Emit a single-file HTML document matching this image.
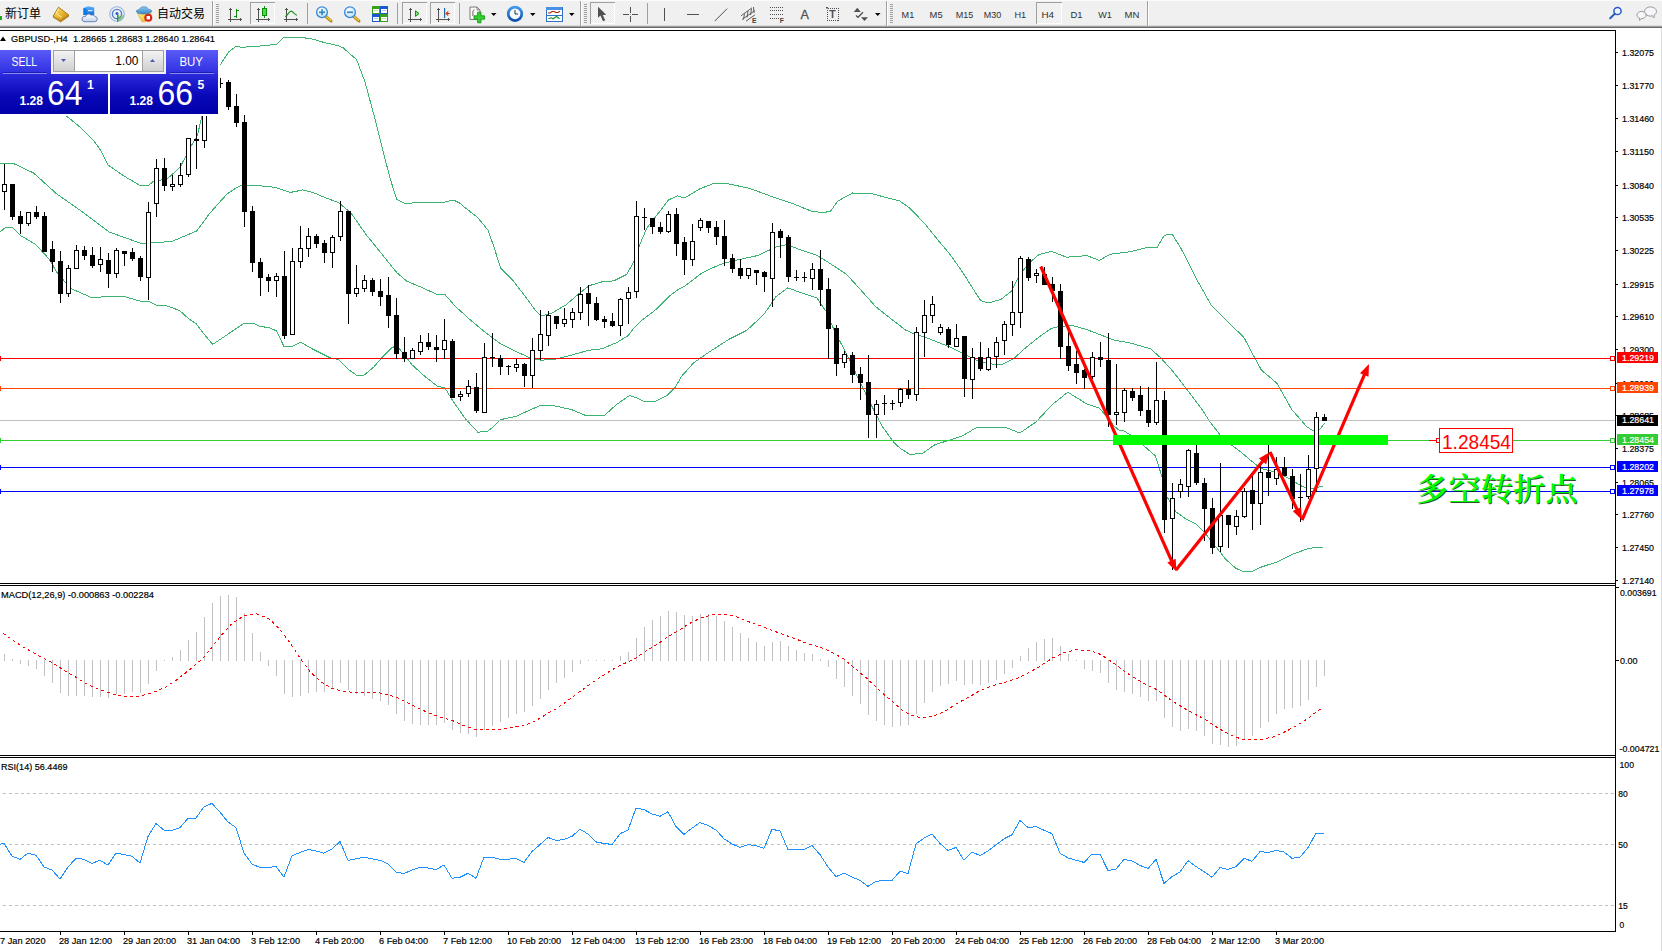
<!DOCTYPE html>
<html><head><meta charset="utf-8"><title>GBPUSD-,H4</title>
<style>
html,body{margin:0;padding:0;background:#fff}
body{width:1662px;height:951px;position:relative;overflow:hidden;font-family:"Liberation Sans", "Noto Sans CJK SC", sans-serif}
#tb{position:absolute;left:0;top:0;width:1662px;height:28px;background:linear-gradient(#fbfbfb 0,#fbfbfb 1px,#f0f0f0 1px,#f0f0f0 25px,#dadada 25px,#dadada 26px,#a0a0a0 26px,#a0a0a0 27px,#686868 27px,#686868 28px)}
</style></head><body>
<div id="tb"></div>
<svg width="1662" height="951" viewBox="0 0 1662 951" style="position:absolute;left:0;top:0;font-family:'Liberation Sans', 'Noto Sans CJK SC', sans-serif">
<defs><clipPath id="cm"><rect x="0" y="31" width="1615" height="552"/></clipPath>
<linearGradient id="gs1" x1="0" y1="0" x2="0" y2="1"><stop offset="0" stop-color="#5a5af8"/><stop offset="1" stop-color="#2e2ee0"/></linearGradient>
<linearGradient id="gs2" x1="0" y1="0" x2="0" y2="1"><stop offset="0" stop-color="#2a2adc"/><stop offset="0.55" stop-color="#0808b8"/><stop offset="1" stop-color="#0000a8"/></linearGradient>
<linearGradient id="gb" x1="0" y1="0" x2="0" y2="1"><stop offset="0" stop-color="#f4f4f4"/><stop offset="1" stop-color="#cfcfcf"/></linearGradient>
</defs>
<g shape-rendering="crispEdges" fill="#000">
<rect x="0" y="30" width="1616" height="1"/>
<rect x="1615" y="30" width="1" height="902"/>
<rect x="0" y="583" width="1616" height="1"/>
<rect x="0" y="585" width="1616" height="1"/>
<rect x="0" y="755" width="1616" height="1"/>
<rect x="0" y="757" width="1616" height="1"/>
<rect x="0" y="931" width="1616" height="1"/>
<rect x="1661" y="28" width="1" height="923" fill="#dcdcdc"/>
</g>
<g clip-path="url(#cm)">
<path d="M-4.0,96.0 L20.0,101.0 L40.0,106.0 L66.3,116.0 L72.0,120.5 L80.9,128.0 L93.5,140.6 L99.8,149.0 L108.0,165.0 L124.0,176.0 L136.7,183.6 L140.0,185.5 L148.8,185.1 L152.6,182.0 L160.2,180.1 L167.1,178.8 L171.6,175.0 L180.4,166.8 L185.5,156.7 L190.5,147.2 L197.4,135.3 L201.9,116.3 L212.0,88.0 L220.0,65.3 L228.7,51.9 L236.0,46.3 L242.0,47.3 L257.0,46.3 L276.6,44.3 L284.0,37.2 L296.0,37.2 L310.0,38.4 L324.6,42.6 L338.0,45.6 L343.0,47.7 L351.5,55.2 L356.5,59.4 L365.0,82.0 L375.0,119.0 L382.7,150.0 L390.0,178.0 L396.6,199.2 L405.4,203.8 L416.7,202.5 L444.5,202.2 L453.3,200.0 L459.6,203.0 L465.0,207.6 L477.9,217.7 L488.0,230.3 L494.3,248.0 L500.6,268.0 L513.2,280.8 L525.8,297.2 L535.9,311.0 L541.0,316.0 L551.0,313.6 L566.2,304.7 L576.3,295.9 L588.9,285.8 L601.5,282.0 L614.0,280.8 L626.8,274.4 L634.3,260.6 L639.4,245.4 L647.0,227.8 L657.0,215.0 L668.4,200.0 L677.4,195.9 L684.7,198.0 L699.4,189.0 L714.2,183.3 L728.9,184.0 L749.5,188.3 L773.0,197.0 L793.7,203.9 L811.3,211.2 L823.0,212.7 L830.5,211.2 L837.8,201.0 L852.6,193.0 L873.0,194.0 L888.0,198.0 L899.7,201.0 L910.0,208.3 L925.0,224.0 L937.9,240.0 L950.5,255.0 L963.0,272.8 L975.7,293.0 L980.8,300.6 L988.3,303.0 L1001.0,299.3 L1011.0,291.7 L1021.0,272.8 L1031.0,261.5 L1038.8,254.6 L1051.4,251.4 L1066.6,257.2 L1086.8,255.6 L1099.4,260.4 L1110.0,254.3 L1130.0,251.7 L1148.0,247.4 L1156.8,248.0 L1164.4,235.3 L1172.0,234.0 L1180.8,248.0 L1196.0,278.2 L1211.0,304.7 L1226.0,319.9 L1243.9,337.5 L1254.0,356.5 L1261.5,370.3 L1276.7,383.0 L1291.8,409.5 L1307.0,427.0 L1314.5,431.5 L1319.6,429.6 L1324.6,423.3" fill="none" stroke="#3cb371" stroke-width="1" shape-rendering="crispEdges"/>
<path d="M0.0,164.0 L13.7,163.6 L33.6,173.0 L56.8,194.0 L84.0,213.0 L109.0,232.0 L126.0,238.0 L141.0,243.5 L151.0,243.0 L172.0,241.4 L196.6,231.0 L210.0,213.0 L227.0,194.0 L234.6,189.0 L240.0,185.8 L255.0,185.3 L275.4,187.4 L290.6,192.4 L303.0,189.9 L313.0,192.4 L326.0,198.0 L338.5,202.5 L351.0,213.0 L366.0,234.5 L381.4,253.5 L396.6,272.4 L406.7,281.2 L421.8,287.5 L437.0,294.4 L445.0,294.6 L455.0,306.0 L470.3,319.9 L485.4,332.5 L500.6,343.8 L515.7,351.4 L529.6,357.7 L541.0,360.3 L556.0,359.0 L571.2,355.2 L588.9,350.2 L601.5,348.9 L616.7,342.6 L628.0,335.7 L634.2,327.6 L640.3,321.5 L650.3,313.9 L657.4,308.3 L670.1,295.5 L677.7,289.8 L684.3,286.5 L691.9,280.8 L701.4,273.2 L708.9,269.5 L716.5,266.1 L723.0,263.6 L740.7,259.2 L758.3,255.4 L769.5,250.0 L776.4,246.8 L785.7,244.9 L792.6,246.8 L800.0,249.7 L817.0,255.4 L829.0,262.8 L846.7,274.5 L861.4,290.7 L876.0,306.9 L890.8,318.7 L905.6,330.0 L912.6,333.4 L925.2,337.2 L937.9,342.2 L950.5,347.3 L963.0,353.6 L975.7,359.9 L988.3,363.7 L1001.0,364.9 L1013.6,358.6 L1026.2,347.3 L1038.8,337.2 L1051.4,328.3 L1059.0,326.6 L1071.6,325.3 L1086.8,329.6 L1102.0,335.4 L1113.9,340.0 L1130.0,343.0 L1150.5,348.8 L1160.6,357.7 L1173.0,371.5 L1185.8,388.0 L1201.0,408.0 L1211.0,423.3 L1221.0,436.0 L1231.0,444.7 L1241.3,452.3 L1251.4,461.0 L1261.5,468.7 L1276.7,472.5 L1291.8,480.0 L1302.0,486.4 L1312.0,488.9 L1323.0,485.9" fill="none" stroke="#3cb371" stroke-width="1" shape-rendering="crispEdges"/>
<path d="M0.0,232.0 L5.0,227.8 L12.6,227.8 L21.0,235.8 L35.8,244.6 L49.4,259.3 L57.8,274.0 L71.5,288.8 L92.5,298.0 L109.0,296.0 L126.0,297.0 L141.0,301.4 L148.7,301.3 L156.4,305.4 L166.0,305.6 L179.5,310.4 L189.0,319.0 L195.8,323.4 L203.5,333.5 L212.7,344.3 L224.7,336.4 L234.8,329.5 L244.4,323.2 L253.0,323.2 L259.3,326.3 L269.0,327.6 L276.7,331.0 L283.9,346.5 L292.0,346.5 L300.7,342.3 L313.3,349.4 L331.0,358.2 L338.5,359.5 L348.6,369.6 L357.4,375.9 L363.8,375.4 L373.8,367.0 L381.4,358.2 L391.5,348.0 L396.6,345.6 L404.0,354.4 L411.7,364.5 L424.3,375.9 L437.0,386.0 L445.0,388.0 L452.6,400.6 L465.0,418.3 L477.9,432.2 L488.0,431.0 L493.0,427.0 L500.6,419.6 L515.7,416.5 L528.3,410.7 L541.0,405.2 L553.6,405.7 L571.2,409.5 L586.4,415.8 L604.0,415.8 L616.7,404.4 L629.3,395.6 L636.8,398.0 L644.4,401.9 L654.5,401.9 L667.0,395.6 L674.7,388.0 L681.8,376.0 L693.6,362.9 L708.3,352.6 L728.9,339.3 L746.6,330.5 L764.0,314.3 L776.0,296.6 L787.8,287.8 L799.6,292.2 L817.0,298.0 L826.0,311.3 L834.9,332.0 L846.7,354.0 L858.5,379.0 L870.0,402.6 L882.0,426.0 L893.8,442.4 L900.0,448.2 L910.0,454.5 L922.7,453.2 L935.3,444.4 L950.5,440.0 L963.0,435.6 L975.7,428.0 L988.3,427.3 L1006.0,427.5 L1019.9,433.0 L1036.3,421.7 L1051.4,405.3 L1067.8,392.2 L1086.8,404.0 L1099.4,408.0 L1107.6,418.0 L1114.0,425.9 L1118.6,430.0 L1123.5,430.6 L1130.0,434.7 L1143.0,445.0 L1155.5,456.0 L1161.8,476.3 L1166.9,496.5 L1175.7,511.6 L1185.8,519.0 L1196.0,524.0 L1206.0,534.3 L1216.0,547.0 L1226.0,559.6 L1236.0,568.4 L1243.9,571.7 L1251.4,571.7 L1261.5,567.0 L1276.7,562.0 L1291.8,554.5 L1307.0,549.0 L1317.0,547.0 L1323.0,548.0" fill="none" stroke="#3cb371" stroke-width="1" shape-rendering="crispEdges"/>
<g shape-rendering="crispEdges">
<rect x="0" y="358" width="1615" height="1" fill="#ff0000"/>
<rect x="0" y="388" width="1615" height="1" fill="#ff4500"/>
<rect x="0" y="420" width="1615" height="1" fill="#c0c0c0"/>
<rect x="0" y="440" width="1615" height="1" fill="#32cd32"/>
<rect x="0" y="467" width="1615" height="1" fill="#0000ff"/>
<rect x="0" y="491" width="1615" height="1" fill="#0000ff"/>
</g>
<g shape-rendering="crispEdges">
<rect x="4" y="164" width="1" height="46" fill="#000"/>
<rect x="2" y="184" width="5" height="8" fill="#000"/>
<rect x="3" y="185" width="3" height="6" fill="#fff"/>
<rect x="12" y="184" width="1" height="36" fill="#000"/>
<rect x="10" y="184" width="5" height="33" fill="#000"/>
<rect x="20" y="211" width="1" height="23" fill="#000"/>
<rect x="18" y="216" width="5" height="8" fill="#000"/>
<rect x="28" y="212" width="1" height="14" fill="#000"/>
<rect x="26" y="212" width="5" height="12" fill="#000"/>
<rect x="27" y="213" width="3" height="10" fill="#fff"/>
<rect x="36" y="206" width="1" height="13" fill="#000"/>
<rect x="34" y="212" width="5" height="5" fill="#000"/>
<rect x="44" y="212" width="1" height="40" fill="#000"/>
<rect x="42" y="216" width="5" height="36" fill="#000"/>
<rect x="52" y="241" width="1" height="31" fill="#000"/>
<rect x="50" y="249" width="5" height="13" fill="#000"/>
<rect x="60" y="251" width="1" height="52" fill="#000"/>
<rect x="58" y="261" width="5" height="33" fill="#000"/>
<rect x="68" y="265" width="1" height="32" fill="#000"/>
<rect x="66" y="268" width="5" height="26" fill="#000"/>
<rect x="67" y="269" width="3" height="24" fill="#fff"/>
<rect x="76" y="245" width="1" height="24" fill="#000"/>
<rect x="74" y="250" width="5" height="19" fill="#000"/>
<rect x="75" y="251" width="3" height="17" fill="#fff"/>
<rect x="84" y="246" width="1" height="14" fill="#000"/>
<rect x="82" y="250" width="5" height="6" fill="#000"/>
<rect x="92" y="247" width="1" height="21" fill="#000"/>
<rect x="90" y="255" width="5" height="11" fill="#000"/>
<rect x="100" y="247" width="1" height="25" fill="#000"/>
<rect x="98" y="259" width="5" height="6" fill="#000"/>
<rect x="99" y="260" width="3" height="4" fill="#fff"/>
<rect x="108" y="253" width="1" height="35" fill="#000"/>
<rect x="106" y="260" width="5" height="14" fill="#000"/>
<rect x="116" y="248" width="1" height="30" fill="#000"/>
<rect x="114" y="250" width="5" height="24" fill="#000"/>
<rect x="115" y="251" width="3" height="22" fill="#fff"/>
<rect x="124" y="251" width="1" height="15" fill="#000"/>
<rect x="122" y="251" width="5" height="3" fill="#000"/>
<rect x="132" y="248" width="1" height="13" fill="#000"/>
<rect x="130" y="252" width="5" height="7" fill="#000"/>
<rect x="140" y="256" width="1" height="25" fill="#000"/>
<rect x="138" y="258" width="5" height="19" fill="#000"/>
<rect x="148" y="202" width="1" height="98" fill="#000"/>
<rect x="146" y="212" width="5" height="66" fill="#000"/>
<rect x="147" y="213" width="3" height="64" fill="#fff"/>
<rect x="156" y="159" width="1" height="58" fill="#000"/>
<rect x="154" y="168" width="5" height="36" fill="#000"/>
<rect x="155" y="169" width="3" height="34" fill="#fff"/>
<rect x="164" y="158" width="1" height="33" fill="#000"/>
<rect x="162" y="168" width="5" height="18" fill="#000"/>
<rect x="172" y="175" width="1" height="16" fill="#000"/>
<rect x="170" y="184" width="5" height="3" fill="#000"/>
<rect x="171" y="185" width="3" height="1" fill="#fff"/>
<rect x="180" y="163" width="1" height="24" fill="#000"/>
<rect x="178" y="175" width="5" height="10" fill="#000"/>
<rect x="179" y="176" width="3" height="8" fill="#fff"/>
<rect x="188" y="138" width="1" height="39" fill="#000"/>
<rect x="186" y="138" width="5" height="37" fill="#000"/>
<rect x="187" y="139" width="3" height="35" fill="#fff"/>
<rect x="196" y="125" width="1" height="44" fill="#000"/>
<rect x="194" y="139" width="5" height="2" fill="#000"/>
<rect x="204" y="100" width="1" height="48" fill="#000"/>
<rect x="202" y="104" width="5" height="37" fill="#000"/>
<rect x="203" y="105" width="3" height="35" fill="#fff"/>
<rect x="212" y="84" width="1" height="23" fill="#000"/>
<rect x="210" y="86" width="5" height="19" fill="#000"/>
<rect x="211" y="87" width="3" height="17" fill="#fff"/>
<rect x="220" y="78" width="1" height="10" fill="#000"/>
<rect x="218" y="83" width="5" height="1" fill="#000"/>
<rect x="228" y="80" width="1" height="30" fill="#000"/>
<rect x="226" y="82" width="5" height="25" fill="#000"/>
<rect x="236" y="94" width="1" height="33" fill="#000"/>
<rect x="234" y="106" width="5" height="17" fill="#000"/>
<rect x="244" y="115" width="1" height="112" fill="#000"/>
<rect x="242" y="122" width="5" height="90" fill="#000"/>
<rect x="252" y="206" width="1" height="66" fill="#000"/>
<rect x="250" y="211" width="5" height="52" fill="#000"/>
<rect x="260" y="258" width="1" height="38" fill="#000"/>
<rect x="258" y="262" width="5" height="16" fill="#000"/>
<rect x="268" y="274" width="1" height="18" fill="#000"/>
<rect x="266" y="277" width="5" height="4" fill="#000"/>
<rect x="276" y="273" width="1" height="24" fill="#000"/>
<rect x="274" y="276" width="5" height="5" fill="#000"/>
<rect x="275" y="277" width="3" height="3" fill="#fff"/>
<rect x="284" y="251" width="1" height="88" fill="#000"/>
<rect x="282" y="276" width="5" height="60" fill="#000"/>
<rect x="292" y="248" width="1" height="87" fill="#000"/>
<rect x="290" y="261" width="5" height="74" fill="#000"/>
<rect x="291" y="262" width="3" height="72" fill="#fff"/>
<rect x="300" y="226" width="1" height="42" fill="#000"/>
<rect x="298" y="248" width="5" height="14" fill="#000"/>
<rect x="299" y="249" width="3" height="12" fill="#fff"/>
<rect x="308" y="228" width="1" height="29" fill="#000"/>
<rect x="306" y="236" width="5" height="13" fill="#000"/>
<rect x="307" y="237" width="3" height="11" fill="#fff"/>
<rect x="316" y="234" width="1" height="14" fill="#000"/>
<rect x="314" y="236" width="5" height="8" fill="#000"/>
<rect x="324" y="240" width="1" height="23" fill="#000"/>
<rect x="322" y="243" width="5" height="10" fill="#000"/>
<rect x="332" y="235" width="1" height="33" fill="#000"/>
<rect x="330" y="237" width="5" height="16" fill="#000"/>
<rect x="331" y="238" width="3" height="14" fill="#fff"/>
<rect x="340" y="201" width="1" height="40" fill="#000"/>
<rect x="338" y="211" width="5" height="26" fill="#000"/>
<rect x="339" y="212" width="3" height="24" fill="#fff"/>
<rect x="348" y="211" width="1" height="113" fill="#000"/>
<rect x="346" y="211" width="5" height="83" fill="#000"/>
<rect x="356" y="265" width="1" height="32" fill="#000"/>
<rect x="354" y="288" width="5" height="6" fill="#000"/>
<rect x="355" y="289" width="3" height="4" fill="#fff"/>
<rect x="364" y="275" width="1" height="17" fill="#000"/>
<rect x="362" y="280" width="5" height="9" fill="#000"/>
<rect x="363" y="281" width="3" height="7" fill="#fff"/>
<rect x="372" y="278" width="1" height="18" fill="#000"/>
<rect x="370" y="280" width="5" height="12" fill="#000"/>
<rect x="380" y="279" width="1" height="27" fill="#000"/>
<rect x="378" y="291" width="5" height="6" fill="#000"/>
<rect x="388" y="277" width="1" height="51" fill="#000"/>
<rect x="386" y="295" width="5" height="21" fill="#000"/>
<rect x="396" y="298" width="1" height="61" fill="#000"/>
<rect x="394" y="315" width="5" height="39" fill="#000"/>
<rect x="404" y="337" width="1" height="25" fill="#000"/>
<rect x="402" y="352" width="5" height="7" fill="#000"/>
<rect x="412" y="348" width="1" height="11" fill="#000"/>
<rect x="410" y="350" width="5" height="9" fill="#000"/>
<rect x="411" y="351" width="3" height="7" fill="#fff"/>
<rect x="420" y="335" width="1" height="20" fill="#000"/>
<rect x="418" y="342" width="5" height="10" fill="#000"/>
<rect x="419" y="343" width="3" height="8" fill="#fff"/>
<rect x="428" y="333" width="1" height="17" fill="#000"/>
<rect x="426" y="342" width="5" height="5" fill="#000"/>
<rect x="436" y="335" width="1" height="27" fill="#000"/>
<rect x="434" y="347" width="5" height="3" fill="#000"/>
<rect x="444" y="319" width="1" height="40" fill="#000"/>
<rect x="442" y="340" width="5" height="10" fill="#000"/>
<rect x="443" y="341" width="3" height="8" fill="#fff"/>
<rect x="452" y="339" width="1" height="59" fill="#000"/>
<rect x="450" y="341" width="5" height="57" fill="#000"/>
<rect x="460" y="391" width="1" height="10" fill="#000"/>
<rect x="458" y="394" width="5" height="3" fill="#000"/>
<rect x="459" y="395" width="3" height="1" fill="#fff"/>
<rect x="468" y="380" width="1" height="17" fill="#000"/>
<rect x="466" y="386" width="5" height="8" fill="#000"/>
<rect x="467" y="387" width="3" height="6" fill="#fff"/>
<rect x="476" y="373" width="1" height="40" fill="#000"/>
<rect x="474" y="387" width="5" height="24" fill="#000"/>
<rect x="484" y="343" width="1" height="70" fill="#000"/>
<rect x="482" y="357" width="5" height="56" fill="#000"/>
<rect x="483" y="358" width="3" height="54" fill="#fff"/>
<rect x="492" y="333" width="1" height="34" fill="#000"/>
<rect x="490" y="357" width="5" height="1" fill="#000"/>
<rect x="500" y="355" width="1" height="20" fill="#000"/>
<rect x="498" y="358" width="5" height="9" fill="#000"/>
<rect x="508" y="365" width="1" height="10" fill="#000"/>
<rect x="506" y="366" width="5" height="1" fill="#000"/>
<rect x="516" y="359" width="1" height="13" fill="#000"/>
<rect x="514" y="364" width="5" height="4" fill="#000"/>
<rect x="515" y="365" width="3" height="2" fill="#fff"/>
<rect x="524" y="363" width="1" height="24" fill="#000"/>
<rect x="522" y="364" width="5" height="12" fill="#000"/>
<rect x="532" y="338" width="1" height="50" fill="#000"/>
<rect x="530" y="350" width="5" height="26" fill="#000"/>
<rect x="531" y="351" width="3" height="24" fill="#fff"/>
<rect x="540" y="310" width="1" height="50" fill="#000"/>
<rect x="538" y="334" width="5" height="17" fill="#000"/>
<rect x="539" y="335" width="3" height="15" fill="#fff"/>
<rect x="548" y="311" width="1" height="35" fill="#000"/>
<rect x="546" y="315" width="5" height="21" fill="#000"/>
<rect x="547" y="316" width="3" height="19" fill="#fff"/>
<rect x="556" y="316" width="1" height="13" fill="#000"/>
<rect x="554" y="316" width="5" height="8" fill="#000"/>
<rect x="564" y="308" width="1" height="19" fill="#000"/>
<rect x="562" y="319" width="5" height="5" fill="#000"/>
<rect x="563" y="320" width="3" height="3" fill="#fff"/>
<rect x="572" y="308" width="1" height="20" fill="#000"/>
<rect x="570" y="312" width="5" height="8" fill="#000"/>
<rect x="571" y="313" width="3" height="6" fill="#fff"/>
<rect x="580" y="287" width="1" height="33" fill="#000"/>
<rect x="578" y="294" width="5" height="19" fill="#000"/>
<rect x="579" y="295" width="3" height="17" fill="#fff"/>
<rect x="588" y="285" width="1" height="41" fill="#000"/>
<rect x="586" y="293" width="5" height="11" fill="#000"/>
<rect x="596" y="297" width="1" height="24" fill="#000"/>
<rect x="594" y="303" width="5" height="17" fill="#000"/>
<rect x="604" y="316" width="1" height="12" fill="#000"/>
<rect x="602" y="319" width="5" height="3" fill="#000"/>
<rect x="612" y="313" width="1" height="14" fill="#000"/>
<rect x="610" y="321" width="5" height="5" fill="#000"/>
<rect x="620" y="298" width="1" height="38" fill="#000"/>
<rect x="618" y="299" width="5" height="27" fill="#000"/>
<rect x="619" y="300" width="3" height="25" fill="#fff"/>
<rect x="628" y="287" width="1" height="37" fill="#000"/>
<rect x="626" y="292" width="5" height="7" fill="#000"/>
<rect x="627" y="293" width="3" height="5" fill="#fff"/>
<rect x="636" y="201" width="1" height="97" fill="#000"/>
<rect x="634" y="216" width="5" height="76" fill="#000"/>
<rect x="635" y="217" width="3" height="74" fill="#fff"/>
<rect x="644" y="208" width="1" height="22" fill="#000"/>
<rect x="642" y="217" width="5" height="1" fill="#000"/>
<rect x="652" y="218" width="1" height="16" fill="#000"/>
<rect x="650" y="218" width="5" height="9" fill="#000"/>
<rect x="660" y="222" width="1" height="12" fill="#000"/>
<rect x="658" y="227" width="5" height="5" fill="#000"/>
<rect x="668" y="211" width="1" height="22" fill="#000"/>
<rect x="666" y="214" width="5" height="18" fill="#000"/>
<rect x="667" y="215" width="3" height="16" fill="#fff"/>
<rect x="676" y="208" width="1" height="48" fill="#000"/>
<rect x="674" y="214" width="5" height="30" fill="#000"/>
<rect x="684" y="237" width="1" height="38" fill="#000"/>
<rect x="682" y="242" width="5" height="18" fill="#000"/>
<rect x="692" y="224" width="1" height="42" fill="#000"/>
<rect x="690" y="241" width="5" height="19" fill="#000"/>
<rect x="691" y="242" width="3" height="17" fill="#fff"/>
<rect x="700" y="218" width="1" height="13" fill="#000"/>
<rect x="698" y="220" width="5" height="8" fill="#000"/>
<rect x="699" y="221" width="3" height="6" fill="#fff"/>
<rect x="708" y="221" width="1" height="12" fill="#000"/>
<rect x="706" y="221" width="5" height="7" fill="#000"/>
<rect x="716" y="221" width="1" height="24" fill="#000"/>
<rect x="714" y="227" width="5" height="10" fill="#000"/>
<rect x="724" y="220" width="1" height="46" fill="#000"/>
<rect x="722" y="236" width="5" height="23" fill="#000"/>
<rect x="732" y="254" width="1" height="19" fill="#000"/>
<rect x="730" y="258" width="5" height="11" fill="#000"/>
<rect x="740" y="259" width="1" height="20" fill="#000"/>
<rect x="738" y="268" width="5" height="8" fill="#000"/>
<rect x="748" y="268" width="1" height="11" fill="#000"/>
<rect x="746" y="268" width="5" height="8" fill="#000"/>
<rect x="747" y="269" width="3" height="6" fill="#fff"/>
<rect x="756" y="270" width="1" height="15" fill="#000"/>
<rect x="754" y="270" width="5" height="3" fill="#000"/>
<rect x="764" y="271" width="1" height="21" fill="#000"/>
<rect x="762" y="272" width="5" height="5" fill="#000"/>
<rect x="772" y="223" width="1" height="84" fill="#000"/>
<rect x="770" y="232" width="5" height="47" fill="#000"/>
<rect x="771" y="233" width="3" height="45" fill="#fff"/>
<rect x="780" y="229" width="1" height="29" fill="#000"/>
<rect x="778" y="231" width="5" height="7" fill="#000"/>
<rect x="788" y="235" width="1" height="47" fill="#000"/>
<rect x="786" y="237" width="5" height="40" fill="#000"/>
<rect x="796" y="270" width="1" height="11" fill="#000"/>
<rect x="794" y="277" width="5" height="1" fill="#000"/>
<rect x="804" y="272" width="1" height="10" fill="#000"/>
<rect x="802" y="277" width="5" height="1" fill="#000"/>
<rect x="812" y="263" width="1" height="27" fill="#000"/>
<rect x="810" y="269" width="5" height="10" fill="#000"/>
<rect x="811" y="270" width="3" height="8" fill="#fff"/>
<rect x="820" y="250" width="1" height="56" fill="#000"/>
<rect x="818" y="269" width="5" height="21" fill="#000"/>
<rect x="828" y="278" width="1" height="81" fill="#000"/>
<rect x="826" y="289" width="5" height="40" fill="#000"/>
<rect x="836" y="325" width="1" height="51" fill="#000"/>
<rect x="834" y="328" width="5" height="36" fill="#000"/>
<rect x="844" y="351" width="1" height="17" fill="#000"/>
<rect x="842" y="354" width="5" height="9" fill="#000"/>
<rect x="843" y="355" width="3" height="7" fill="#fff"/>
<rect x="852" y="352" width="1" height="31" fill="#000"/>
<rect x="850" y="355" width="5" height="20" fill="#000"/>
<rect x="860" y="367" width="1" height="33" fill="#000"/>
<rect x="858" y="374" width="5" height="9" fill="#000"/>
<rect x="868" y="355" width="1" height="83" fill="#000"/>
<rect x="866" y="382" width="5" height="33" fill="#000"/>
<rect x="876" y="400" width="1" height="38" fill="#000"/>
<rect x="874" y="404" width="5" height="11" fill="#000"/>
<rect x="875" y="405" width="3" height="9" fill="#fff"/>
<rect x="884" y="395" width="1" height="20" fill="#000"/>
<rect x="882" y="403" width="5" height="1" fill="#000"/>
<rect x="892" y="400" width="1" height="10" fill="#000"/>
<rect x="890" y="403" width="5" height="1" fill="#000"/>
<rect x="900" y="388" width="1" height="19" fill="#000"/>
<rect x="898" y="389" width="5" height="14" fill="#000"/>
<rect x="899" y="390" width="3" height="12" fill="#fff"/>
<rect x="908" y="380" width="1" height="19" fill="#000"/>
<rect x="906" y="389" width="5" height="6" fill="#000"/>
<rect x="916" y="327" width="1" height="74" fill="#000"/>
<rect x="914" y="332" width="5" height="63" fill="#000"/>
<rect x="915" y="333" width="3" height="61" fill="#fff"/>
<rect x="924" y="300" width="1" height="57" fill="#000"/>
<rect x="922" y="315" width="5" height="18" fill="#000"/>
<rect x="923" y="316" width="3" height="16" fill="#fff"/>
<rect x="932" y="296" width="1" height="27" fill="#000"/>
<rect x="930" y="304" width="5" height="12" fill="#000"/>
<rect x="931" y="305" width="3" height="10" fill="#fff"/>
<rect x="940" y="324" width="1" height="11" fill="#000"/>
<rect x="938" y="327" width="5" height="6" fill="#000"/>
<rect x="939" y="328" width="3" height="4" fill="#fff"/>
<rect x="948" y="327" width="1" height="21" fill="#000"/>
<rect x="946" y="329" width="5" height="16" fill="#000"/>
<rect x="956" y="324" width="1" height="23" fill="#000"/>
<rect x="954" y="338" width="5" height="9" fill="#000"/>
<rect x="955" y="339" width="3" height="7" fill="#fff"/>
<rect x="964" y="336" width="1" height="61" fill="#000"/>
<rect x="962" y="336" width="5" height="43" fill="#000"/>
<rect x="972" y="348" width="1" height="51" fill="#000"/>
<rect x="970" y="357" width="5" height="23" fill="#000"/>
<rect x="971" y="358" width="3" height="21" fill="#fff"/>
<rect x="980" y="342" width="1" height="29" fill="#000"/>
<rect x="978" y="357" width="5" height="12" fill="#000"/>
<rect x="988" y="348" width="1" height="23" fill="#000"/>
<rect x="986" y="357" width="5" height="13" fill="#000"/>
<rect x="987" y="358" width="3" height="11" fill="#fff"/>
<rect x="996" y="337" width="1" height="31" fill="#000"/>
<rect x="994" y="342" width="5" height="15" fill="#000"/>
<rect x="995" y="343" width="3" height="13" fill="#fff"/>
<rect x="1004" y="321" width="1" height="34" fill="#000"/>
<rect x="1002" y="324" width="5" height="17" fill="#000"/>
<rect x="1003" y="325" width="3" height="15" fill="#fff"/>
<rect x="1012" y="281" width="1" height="55" fill="#000"/>
<rect x="1010" y="312" width="5" height="13" fill="#000"/>
<rect x="1011" y="313" width="3" height="11" fill="#fff"/>
<rect x="1020" y="256" width="1" height="72" fill="#000"/>
<rect x="1018" y="258" width="5" height="55" fill="#000"/>
<rect x="1019" y="259" width="3" height="53" fill="#fff"/>
<rect x="1028" y="257" width="1" height="24" fill="#000"/>
<rect x="1026" y="259" width="5" height="19" fill="#000"/>
<rect x="1036" y="269" width="1" height="14" fill="#000"/>
<rect x="1034" y="273" width="5" height="3" fill="#000"/>
<rect x="1035" y="274" width="3" height="1" fill="#fff"/>
<rect x="1044" y="267" width="1" height="18" fill="#000"/>
<rect x="1042" y="274" width="5" height="11" fill="#000"/>
<rect x="1052" y="277" width="1" height="25" fill="#000"/>
<rect x="1050" y="284" width="5" height="7" fill="#000"/>
<rect x="1060" y="284" width="1" height="75" fill="#000"/>
<rect x="1058" y="291" width="5" height="56" fill="#000"/>
<rect x="1068" y="332" width="1" height="39" fill="#000"/>
<rect x="1066" y="346" width="5" height="20" fill="#000"/>
<rect x="1076" y="351" width="1" height="33" fill="#000"/>
<rect x="1074" y="364" width="5" height="9" fill="#000"/>
<rect x="1084" y="369" width="1" height="20" fill="#000"/>
<rect x="1082" y="370" width="5" height="8" fill="#000"/>
<rect x="1092" y="352" width="1" height="27" fill="#000"/>
<rect x="1090" y="357" width="5" height="20" fill="#000"/>
<rect x="1091" y="358" width="3" height="18" fill="#fff"/>
<rect x="1100" y="342" width="1" height="25" fill="#000"/>
<rect x="1098" y="357" width="5" height="3" fill="#000"/>
<rect x="1108" y="333" width="1" height="94" fill="#000"/>
<rect x="1106" y="360" width="5" height="55" fill="#000"/>
<rect x="1116" y="364" width="1" height="61" fill="#000"/>
<rect x="1114" y="412" width="5" height="3" fill="#000"/>
<rect x="1115" y="413" width="3" height="1" fill="#fff"/>
<rect x="1124" y="388" width="1" height="34" fill="#000"/>
<rect x="1122" y="390" width="5" height="23" fill="#000"/>
<rect x="1123" y="391" width="3" height="21" fill="#fff"/>
<rect x="1132" y="388" width="1" height="13" fill="#000"/>
<rect x="1130" y="391" width="5" height="7" fill="#000"/>
<rect x="1140" y="386" width="1" height="30" fill="#000"/>
<rect x="1138" y="395" width="5" height="16" fill="#000"/>
<rect x="1148" y="387" width="1" height="40" fill="#000"/>
<rect x="1146" y="410" width="5" height="13" fill="#000"/>
<rect x="1156" y="362" width="1" height="63" fill="#000"/>
<rect x="1154" y="400" width="5" height="23" fill="#000"/>
<rect x="1155" y="401" width="3" height="21" fill="#fff"/>
<rect x="1164" y="391" width="1" height="142" fill="#000"/>
<rect x="1162" y="400" width="5" height="120" fill="#000"/>
<rect x="1172" y="483" width="1" height="87" fill="#000"/>
<rect x="1170" y="498" width="5" height="21" fill="#000"/>
<rect x="1171" y="499" width="3" height="19" fill="#fff"/>
<rect x="1180" y="479" width="1" height="19" fill="#000"/>
<rect x="1178" y="484" width="5" height="8" fill="#000"/>
<rect x="1179" y="485" width="3" height="6" fill="#fff"/>
<rect x="1188" y="449" width="1" height="48" fill="#000"/>
<rect x="1186" y="450" width="5" height="37" fill="#000"/>
<rect x="1187" y="451" width="3" height="35" fill="#fff"/>
<rect x="1196" y="444" width="1" height="41" fill="#000"/>
<rect x="1194" y="453" width="5" height="30" fill="#000"/>
<rect x="1204" y="478" width="1" height="63" fill="#000"/>
<rect x="1202" y="483" width="5" height="26" fill="#000"/>
<rect x="1212" y="498" width="1" height="56" fill="#000"/>
<rect x="1210" y="508" width="5" height="40" fill="#000"/>
<rect x="1220" y="463" width="1" height="89" fill="#000"/>
<rect x="1218" y="515" width="5" height="32" fill="#000"/>
<rect x="1219" y="516" width="3" height="30" fill="#fff"/>
<rect x="1228" y="515" width="1" height="33" fill="#000"/>
<rect x="1226" y="515" width="5" height="10" fill="#000"/>
<rect x="1236" y="510" width="1" height="25" fill="#000"/>
<rect x="1234" y="516" width="5" height="11" fill="#000"/>
<rect x="1235" y="517" width="3" height="9" fill="#fff"/>
<rect x="1244" y="488" width="1" height="30" fill="#000"/>
<rect x="1242" y="491" width="5" height="26" fill="#000"/>
<rect x="1243" y="492" width="3" height="24" fill="#fff"/>
<rect x="1252" y="476" width="1" height="54" fill="#000"/>
<rect x="1250" y="490" width="5" height="14" fill="#000"/>
<rect x="1260" y="465" width="1" height="60" fill="#000"/>
<rect x="1258" y="472" width="5" height="32" fill="#000"/>
<rect x="1259" y="473" width="3" height="30" fill="#fff"/>
<rect x="1268" y="445" width="1" height="51" fill="#000"/>
<rect x="1266" y="472" width="5" height="6" fill="#000"/>
<rect x="1276" y="457" width="1" height="28" fill="#000"/>
<rect x="1274" y="469" width="5" height="10" fill="#000"/>
<rect x="1275" y="470" width="3" height="8" fill="#fff"/>
<rect x="1284" y="457" width="1" height="19" fill="#000"/>
<rect x="1282" y="467" width="5" height="9" fill="#000"/>
<rect x="1292" y="469" width="1" height="40" fill="#000"/>
<rect x="1290" y="476" width="5" height="23" fill="#000"/>
<rect x="1300" y="474" width="1" height="48" fill="#000"/>
<rect x="1298" y="497" width="5" height="1" fill="#000"/>
<rect x="1308" y="455" width="1" height="44" fill="#000"/>
<rect x="1306" y="469" width="5" height="28" fill="#000"/>
<rect x="1307" y="470" width="3" height="26" fill="#fff"/>
<rect x="1316" y="412" width="1" height="80" fill="#000"/>
<rect x="1314" y="417" width="5" height="52" fill="#000"/>
<rect x="1315" y="418" width="3" height="50" fill="#fff"/>
<rect x="1324" y="414" width="1" height="7" fill="#000"/>
<rect x="1322" y="417" width="5" height="4" fill="#000"/>
</g>
<line x1="1040.8" y1="266.5" x2="1172.7" y2="563.3" stroke="#ff0000" stroke-width="3.2"/>
<polygon points="1176.4,571.5 1167.3,562.4 1175.7,558.7" fill="#ff0000"/>
<line x1="1176" y1="570" x2="1264.4" y2="459.0" stroke="#ff0000" stroke-width="3.2"/>
<polygon points="1270.0,452.0 1266.1,464.3 1258.9,458.5" fill="#ff0000"/>
<line x1="1270" y1="452" x2="1298.2" y2="511.9" stroke="#ff0000" stroke-width="3.2"/>
<polygon points="1302.0,520.0 1292.7,511.1 1301.1,507.2" fill="#ff0000"/>
<line x1="1302" y1="520" x2="1365.4" y2="372.3" stroke="#ff0000" stroke-width="3.2"/>
<polygon points="1369.0,364.0 1368.5,376.8 1360.0,373.2" fill="#ff0000"/>
<rect x="1113" y="435" width="275" height="10" fill="#00ff00" shape-rendering="crispEdges"/>
<clipPath id="cl"><rect x="1300" y="400" width="40" height="46"/></clipPath><g shape-rendering="crispEdges" clip-path="url(#cl)">
<rect x="1316" y="412" width="1" height="80" fill="#000"/>
<rect x="1314" y="417" width="5" height="52" fill="#000"/>
<rect x="1315" y="418" width="3" height="50" fill="#fff"/>
<rect x="1324" y="414" width="1" height="7" fill="#000"/>
<rect x="1322" y="417" width="5" height="4" fill="#000"/>
</g>
</g>
<g shape-rendering="crispEdges"><rect x="1429" y="440" width="9" height="1" fill="#ff0000"/><rect x="1436.5" y="438.5" width="3" height="4" fill="#fff" stroke="#ff0000" stroke-width="1"/>
<rect x="1439.5" y="428.5" width="73" height="24" fill="#fff" stroke="#ff0000" stroke-width="1"/></g>
<text x="1442" y="448.5" font-size="21" fill="#ff0000" textLength="69" lengthAdjust="spacingAndGlyphs">1.28454</text>
<text x="1416.7" y="501.0" font-size="30.2" font-weight="600" fill="#083808" opacity="0.85" textLength="162" lengthAdjust="spacingAndGlyphs" style="font-family:'Liberation Serif','Noto Serif CJK SC','Noto Sans CJK SC',serif">多空转折点</text>
<text x="1416" y="500.3" font-size="30.2" font-weight="600" fill="#00ff00" opacity="1" textLength="162" lengthAdjust="spacingAndGlyphs" style="font-family:'Liberation Serif','Noto Serif CJK SC','Noto Sans CJK SC',serif">多空转折点</text>
<g shape-rendering="crispEdges">
<rect x="1610.5" y="356.5" width="4" height="4" fill="#fff" stroke="#ff0000" stroke-width="1"/>
<rect x="0" y="356" width="1" height="5" fill="#ff0000"/>
<rect x="1610.5" y="386.5" width="4" height="4" fill="#fff" stroke="#ff4500" stroke-width="1"/>
<rect x="0" y="386" width="1" height="5" fill="#ff4500"/>
<rect x="1610.5" y="438.5" width="4" height="4" fill="#fff" stroke="#32cd32" stroke-width="1"/>
<rect x="0" y="438" width="1" height="5" fill="#32cd32"/>
<rect x="1610.5" y="465.5" width="4" height="4" fill="#fff" stroke="#0000ff" stroke-width="1"/>
<rect x="0" y="465" width="1" height="5" fill="#0000ff"/>
<rect x="1610.5" y="489.5" width="4" height="4" fill="#fff" stroke="#0000ff" stroke-width="1"/>
<rect x="0" y="489" width="1" height="5" fill="#0000ff"/>
</g>
<g shape-rendering="crispEdges">
<rect x="1616" y="52" width="2" height="1" fill="#000"/>
<rect x="1616" y="85" width="2" height="1" fill="#000"/>
<rect x="1616" y="118" width="2" height="1" fill="#000"/>
<rect x="1616" y="151" width="2" height="1" fill="#000"/>
<rect x="1616" y="185" width="2" height="1" fill="#000"/>
<rect x="1616" y="217" width="2" height="1" fill="#000"/>
<rect x="1616" y="250" width="2" height="1" fill="#000"/>
<rect x="1616" y="284" width="2" height="1" fill="#000"/>
<rect x="1616" y="316" width="2" height="1" fill="#000"/>
<rect x="1616" y="349" width="2" height="1" fill="#000"/>
<rect x="1616" y="383" width="2" height="1" fill="#000"/>
<rect x="1616" y="415" width="2" height="1" fill="#000"/>
<rect x="1616" y="448" width="2" height="1" fill="#000"/>
<rect x="1616" y="482" width="2" height="1" fill="#000"/>
<rect x="1616" y="514" width="2" height="1" fill="#000"/>
<rect x="1616" y="547" width="2" height="1" fill="#000"/>
<rect x="1616" y="580" width="2" height="1" fill="#000"/>
</g>
<text x="1622" y="55.5" font-size="9.2" fill="#000" textLength="32" lengthAdjust="spacingAndGlyphs" stroke="#000" stroke-width="0.18">1.32075</text>
<text x="1622" y="88.5" font-size="9.2" fill="#000" textLength="32" lengthAdjust="spacingAndGlyphs" stroke="#000" stroke-width="0.18">1.31770</text>
<text x="1622" y="121.5" font-size="9.2" fill="#000" textLength="32" lengthAdjust="spacingAndGlyphs" stroke="#000" stroke-width="0.18">1.31460</text>
<text x="1622" y="154.5" font-size="9.2" fill="#000" textLength="32" lengthAdjust="spacingAndGlyphs" stroke="#000" stroke-width="0.18">1.31150</text>
<text x="1622" y="188.5" font-size="9.2" fill="#000" textLength="32" lengthAdjust="spacingAndGlyphs" stroke="#000" stroke-width="0.18">1.30840</text>
<text x="1622" y="220.5" font-size="9.2" fill="#000" textLength="32" lengthAdjust="spacingAndGlyphs" stroke="#000" stroke-width="0.18">1.30535</text>
<text x="1622" y="253.5" font-size="9.2" fill="#000" textLength="32" lengthAdjust="spacingAndGlyphs" stroke="#000" stroke-width="0.18">1.30225</text>
<text x="1622" y="287.5" font-size="9.2" fill="#000" textLength="32" lengthAdjust="spacingAndGlyphs" stroke="#000" stroke-width="0.18">1.29915</text>
<text x="1622" y="319.5" font-size="9.2" fill="#000" textLength="32" lengthAdjust="spacingAndGlyphs" stroke="#000" stroke-width="0.18">1.29610</text>
<text x="1622" y="352.5" font-size="9.2" fill="#000" textLength="32" lengthAdjust="spacingAndGlyphs" stroke="#000" stroke-width="0.18">1.29300</text>
<text x="1622" y="386.5" font-size="9.2" fill="#000" textLength="32" lengthAdjust="spacingAndGlyphs" stroke="#000" stroke-width="0.18">1.28990</text>
<text x="1622" y="418.5" font-size="9.2" fill="#000" textLength="32" lengthAdjust="spacingAndGlyphs" stroke="#000" stroke-width="0.18">1.28685</text>
<text x="1622" y="451.5" font-size="9.2" fill="#000" textLength="32" lengthAdjust="spacingAndGlyphs" stroke="#000" stroke-width="0.18">1.28375</text>
<text x="1622" y="485.5" font-size="9.2" fill="#000" textLength="32" lengthAdjust="spacingAndGlyphs" stroke="#000" stroke-width="0.18">1.28065</text>
<text x="1622" y="517.5" font-size="9.2" fill="#000" textLength="32" lengthAdjust="spacingAndGlyphs" stroke="#000" stroke-width="0.18">1.27760</text>
<text x="1622" y="550.5" font-size="9.2" fill="#000" textLength="32" lengthAdjust="spacingAndGlyphs" stroke="#000" stroke-width="0.18">1.27450</text>
<text x="1622" y="583.5" font-size="9.2" fill="#000" textLength="32" lengthAdjust="spacingAndGlyphs" stroke="#000" stroke-width="0.18">1.27140</text>
<g shape-rendering="crispEdges">
<rect x="1617" y="352" width="41" height="11" fill="#ff0000"/>
<rect x="1617" y="382" width="41" height="11" fill="#ff4500"/>
<rect x="1617" y="415" width="41" height="11" fill="#000000"/>
<rect x="1617" y="434" width="41" height="11" fill="#32cd32"/>
<rect x="1617" y="461" width="41" height="11" fill="#0000ff"/>
<rect x="1617" y="485" width="41" height="11" fill="#0000ff"/>
</g>
<text x="1622" y="360.5" font-size="9.2" fill="#fff" textLength="32" lengthAdjust="spacingAndGlyphs" stroke="#fff" stroke-width="0.18">1.29219</text>
<text x="1622" y="390.5" font-size="9.2" fill="#fff" textLength="32" lengthAdjust="spacingAndGlyphs" stroke="#fff" stroke-width="0.18">1.28939</text>
<text x="1622" y="423.3" font-size="9.2" fill="#fff" textLength="32" lengthAdjust="spacingAndGlyphs" stroke="#fff" stroke-width="0.18">1.28641</text>
<text x="1622" y="442.5" font-size="9.2" fill="#fff" textLength="32" lengthAdjust="spacingAndGlyphs" stroke="#fff" stroke-width="0.18">1.28454</text>
<text x="1622" y="469.5" font-size="9.2" fill="#fff" textLength="32" lengthAdjust="spacingAndGlyphs" stroke="#fff" stroke-width="0.18">1.28202</text>
<text x="1622" y="493.5" font-size="9.2" fill="#fff" textLength="32" lengthAdjust="spacingAndGlyphs" stroke="#fff" stroke-width="0.18">1.27978</text>
<polygon points="0,41 3,36.5 6,41" fill="#000"/>
<text x="11" y="42" font-size="9.5" fill="#000" textLength="204" lengthAdjust="spacingAndGlyphs" style="white-space:pre" stroke="#000" stroke-width="0.18">GBPUSD-,H4  1.28665 1.28683 1.28640 1.28641</text>
<g shape-rendering="crispEdges">
<rect x="4" y="654" width="1" height="7" fill="#c0c0c0"/>
<rect x="12" y="659" width="1" height="2" fill="#c0c0c0"/>
<rect x="20" y="660" width="1" height="4" fill="#c0c0c0"/>
<rect x="28" y="660" width="1" height="6" fill="#c0c0c0"/>
<rect x="36" y="660" width="1" height="9" fill="#c0c0c0"/>
<rect x="44" y="660" width="1" height="16" fill="#c0c0c0"/>
<rect x="52" y="660" width="1" height="23" fill="#c0c0c0"/>
<rect x="60" y="660" width="1" height="33" fill="#c0c0c0"/>
<rect x="68" y="660" width="1" height="36" fill="#c0c0c0"/>
<rect x="76" y="660" width="1" height="36" fill="#c0c0c0"/>
<rect x="84" y="660" width="1" height="36" fill="#c0c0c0"/>
<rect x="92" y="660" width="1" height="37" fill="#c0c0c0"/>
<rect x="100" y="660" width="1" height="37" fill="#c0c0c0"/>
<rect x="108" y="660" width="1" height="38" fill="#c0c0c0"/>
<rect x="116" y="660" width="1" height="34" fill="#c0c0c0"/>
<rect x="124" y="660" width="1" height="34" fill="#c0c0c0"/>
<rect x="132" y="660" width="1" height="32" fill="#c0c0c0"/>
<rect x="140" y="660" width="1" height="33" fill="#c0c0c0"/>
<rect x="148" y="660" width="1" height="24" fill="#c0c0c0"/>
<rect x="156" y="660" width="1" height="11" fill="#c0c0c0"/>
<rect x="164" y="660" width="1" height="1" fill="#c0c0c0"/>
<rect x="172" y="657" width="1" height="4" fill="#c0c0c0"/>
<rect x="180" y="650" width="1" height="11" fill="#c0c0c0"/>
<rect x="188" y="640" width="1" height="21" fill="#c0c0c0"/>
<rect x="196" y="632" width="1" height="29" fill="#c0c0c0"/>
<rect x="204" y="617" width="1" height="44" fill="#c0c0c0"/>
<rect x="212" y="603" width="1" height="58" fill="#c0c0c0"/>
<rect x="220" y="596" width="1" height="65" fill="#c0c0c0"/>
<rect x="228" y="595" width="1" height="66" fill="#c0c0c0"/>
<rect x="236" y="597" width="1" height="64" fill="#c0c0c0"/>
<rect x="244" y="613" width="1" height="48" fill="#c0c0c0"/>
<rect x="252" y="633" width="1" height="28" fill="#c0c0c0"/>
<rect x="260" y="652" width="1" height="9" fill="#c0c0c0"/>
<rect x="268" y="660" width="1" height="6" fill="#c0c0c0"/>
<rect x="276" y="660" width="1" height="16" fill="#c0c0c0"/>
<rect x="284" y="660" width="1" height="34" fill="#c0c0c0"/>
<rect x="292" y="660" width="1" height="37" fill="#c0c0c0"/>
<rect x="300" y="660" width="1" height="36" fill="#c0c0c0"/>
<rect x="308" y="660" width="1" height="33" fill="#c0c0c0"/>
<rect x="316" y="660" width="1" height="32" fill="#c0c0c0"/>
<rect x="324" y="660" width="1" height="32" fill="#c0c0c0"/>
<rect x="332" y="660" width="1" height="28" fill="#c0c0c0"/>
<rect x="340" y="660" width="1" height="23" fill="#c0c0c0"/>
<rect x="348" y="660" width="1" height="30" fill="#c0c0c0"/>
<rect x="356" y="660" width="1" height="34" fill="#c0c0c0"/>
<rect x="364" y="660" width="1" height="36" fill="#c0c0c0"/>
<rect x="372" y="660" width="1" height="39" fill="#c0c0c0"/>
<rect x="380" y="660" width="1" height="41" fill="#c0c0c0"/>
<rect x="388" y="660" width="1" height="45" fill="#c0c0c0"/>
<rect x="396" y="660" width="1" height="54" fill="#c0c0c0"/>
<rect x="404" y="660" width="1" height="61" fill="#c0c0c0"/>
<rect x="412" y="660" width="1" height="64" fill="#c0c0c0"/>
<rect x="420" y="660" width="1" height="65" fill="#c0c0c0"/>
<rect x="428" y="660" width="1" height="65" fill="#c0c0c0"/>
<rect x="436" y="660" width="1" height="65" fill="#c0c0c0"/>
<rect x="444" y="660" width="1" height="63" fill="#c0c0c0"/>
<rect x="452" y="660" width="1" height="70" fill="#c0c0c0"/>
<rect x="460" y="660" width="1" height="73" fill="#c0c0c0"/>
<rect x="468" y="660" width="1" height="74" fill="#c0c0c0"/>
<rect x="476" y="660" width="1" height="77" fill="#c0c0c0"/>
<rect x="484" y="660" width="1" height="70" fill="#c0c0c0"/>
<rect x="492" y="660" width="1" height="66" fill="#c0c0c0"/>
<rect x="500" y="660" width="1" height="62" fill="#c0c0c0"/>
<rect x="508" y="660" width="1" height="58" fill="#c0c0c0"/>
<rect x="516" y="660" width="1" height="54" fill="#c0c0c0"/>
<rect x="524" y="660" width="1" height="52" fill="#c0c0c0"/>
<rect x="532" y="660" width="1" height="46" fill="#c0c0c0"/>
<rect x="540" y="660" width="1" height="39" fill="#c0c0c0"/>
<rect x="548" y="660" width="1" height="30" fill="#c0c0c0"/>
<rect x="556" y="660" width="1" height="23" fill="#c0c0c0"/>
<rect x="564" y="660" width="1" height="18" fill="#c0c0c0"/>
<rect x="572" y="660" width="1" height="12" fill="#c0c0c0"/>
<rect x="580" y="660" width="1" height="4" fill="#c0c0c0"/>
<rect x="588" y="660" width="1" height="1" fill="#c0c0c0"/>
<rect x="596" y="660" width="1" height="1" fill="#c0c0c0"/>
<rect x="604" y="660" width="1" height="1" fill="#c0c0c0"/>
<rect x="612" y="660" width="1" height="1" fill="#c0c0c0"/>
<rect x="620" y="656" width="1" height="5" fill="#c0c0c0"/>
<rect x="628" y="652" width="1" height="9" fill="#c0c0c0"/>
<rect x="636" y="638" width="1" height="23" fill="#c0c0c0"/>
<rect x="644" y="627" width="1" height="34" fill="#c0c0c0"/>
<rect x="652" y="620" width="1" height="41" fill="#c0c0c0"/>
<rect x="660" y="616" width="1" height="45" fill="#c0c0c0"/>
<rect x="668" y="611" width="1" height="50" fill="#c0c0c0"/>
<rect x="676" y="612" width="1" height="49" fill="#c0c0c0"/>
<rect x="684" y="615" width="1" height="46" fill="#c0c0c0"/>
<rect x="692" y="616" width="1" height="45" fill="#c0c0c0"/>
<rect x="700" y="614" width="1" height="47" fill="#c0c0c0"/>
<rect x="708" y="614" width="1" height="47" fill="#c0c0c0"/>
<rect x="716" y="616" width="1" height="45" fill="#c0c0c0"/>
<rect x="724" y="621" width="1" height="40" fill="#c0c0c0"/>
<rect x="732" y="627" width="1" height="34" fill="#c0c0c0"/>
<rect x="740" y="633" width="1" height="28" fill="#c0c0c0"/>
<rect x="748" y="638" width="1" height="23" fill="#c0c0c0"/>
<rect x="756" y="642" width="1" height="19" fill="#c0c0c0"/>
<rect x="764" y="646" width="1" height="15" fill="#c0c0c0"/>
<rect x="772" y="642" width="1" height="19" fill="#c0c0c0"/>
<rect x="780" y="641" width="1" height="20" fill="#c0c0c0"/>
<rect x="788" y="646" width="1" height="15" fill="#c0c0c0"/>
<rect x="796" y="650" width="1" height="11" fill="#c0c0c0"/>
<rect x="804" y="653" width="1" height="8" fill="#c0c0c0"/>
<rect x="812" y="654" width="1" height="7" fill="#c0c0c0"/>
<rect x="820" y="659" width="1" height="2" fill="#c0c0c0"/>
<rect x="828" y="660" width="1" height="7" fill="#c0c0c0"/>
<rect x="836" y="660" width="1" height="19" fill="#c0c0c0"/>
<rect x="844" y="660" width="1" height="27" fill="#c0c0c0"/>
<rect x="852" y="660" width="1" height="36" fill="#c0c0c0"/>
<rect x="860" y="660" width="1" height="44" fill="#c0c0c0"/>
<rect x="868" y="660" width="1" height="55" fill="#c0c0c0"/>
<rect x="876" y="660" width="1" height="61" fill="#c0c0c0"/>
<rect x="884" y="660" width="1" height="65" fill="#c0c0c0"/>
<rect x="892" y="660" width="1" height="67" fill="#c0c0c0"/>
<rect x="900" y="660" width="1" height="66" fill="#c0c0c0"/>
<rect x="908" y="660" width="1" height="65" fill="#c0c0c0"/>
<rect x="916" y="660" width="1" height="54" fill="#c0c0c0"/>
<rect x="924" y="660" width="1" height="43" fill="#c0c0c0"/>
<rect x="932" y="660" width="1" height="32" fill="#c0c0c0"/>
<rect x="940" y="660" width="1" height="26" fill="#c0c0c0"/>
<rect x="948" y="660" width="1" height="24" fill="#c0c0c0"/>
<rect x="956" y="660" width="1" height="21" fill="#c0c0c0"/>
<rect x="964" y="660" width="1" height="25" fill="#c0c0c0"/>
<rect x="972" y="660" width="1" height="24" fill="#c0c0c0"/>
<rect x="980" y="660" width="1" height="25" fill="#c0c0c0"/>
<rect x="988" y="660" width="1" height="23" fill="#c0c0c0"/>
<rect x="996" y="660" width="1" height="20" fill="#c0c0c0"/>
<rect x="1004" y="660" width="1" height="14" fill="#c0c0c0"/>
<rect x="1012" y="660" width="1" height="8" fill="#c0c0c0"/>
<rect x="1020" y="656" width="1" height="5" fill="#c0c0c0"/>
<rect x="1028" y="648" width="1" height="13" fill="#c0c0c0"/>
<rect x="1036" y="642" width="1" height="19" fill="#c0c0c0"/>
<rect x="1044" y="639" width="1" height="22" fill="#c0c0c0"/>
<rect x="1052" y="638" width="1" height="23" fill="#c0c0c0"/>
<rect x="1060" y="646" width="1" height="15" fill="#c0c0c0"/>
<rect x="1068" y="654" width="1" height="7" fill="#c0c0c0"/>
<rect x="1076" y="660" width="1" height="1" fill="#c0c0c0"/>
<rect x="1084" y="660" width="1" height="9" fill="#c0c0c0"/>
<rect x="1092" y="660" width="1" height="11" fill="#c0c0c0"/>
<rect x="1100" y="660" width="1" height="13" fill="#c0c0c0"/>
<rect x="1108" y="660" width="1" height="23" fill="#c0c0c0"/>
<rect x="1116" y="660" width="1" height="30" fill="#c0c0c0"/>
<rect x="1124" y="660" width="1" height="32" fill="#c0c0c0"/>
<rect x="1132" y="660" width="1" height="34" fill="#c0c0c0"/>
<rect x="1140" y="660" width="1" height="37" fill="#c0c0c0"/>
<rect x="1148" y="660" width="1" height="41" fill="#c0c0c0"/>
<rect x="1156" y="660" width="1" height="41" fill="#c0c0c0"/>
<rect x="1164" y="660" width="1" height="58" fill="#c0c0c0"/>
<rect x="1172" y="660" width="1" height="67" fill="#c0c0c0"/>
<rect x="1180" y="660" width="1" height="71" fill="#c0c0c0"/>
<rect x="1188" y="660" width="1" height="69" fill="#c0c0c0"/>
<rect x="1196" y="660" width="1" height="71" fill="#c0c0c0"/>
<rect x="1204" y="660" width="1" height="76" fill="#c0c0c0"/>
<rect x="1212" y="660" width="1" height="84" fill="#c0c0c0"/>
<rect x="1220" y="660" width="1" height="85" fill="#c0c0c0"/>
<rect x="1228" y="660" width="1" height="87" fill="#c0c0c0"/>
<rect x="1236" y="660" width="1" height="86" fill="#c0c0c0"/>
<rect x="1244" y="660" width="1" height="80" fill="#c0c0c0"/>
<rect x="1252" y="660" width="1" height="76" fill="#c0c0c0"/>
<rect x="1260" y="660" width="1" height="68" fill="#c0c0c0"/>
<rect x="1268" y="660" width="1" height="62" fill="#c0c0c0"/>
<rect x="1276" y="660" width="1" height="54" fill="#c0c0c0"/>
<rect x="1284" y="660" width="1" height="49" fill="#c0c0c0"/>
<rect x="1292" y="660" width="1" height="48" fill="#c0c0c0"/>
<rect x="1300" y="660" width="1" height="46" fill="#c0c0c0"/>
<rect x="1308" y="660" width="1" height="40" fill="#c0c0c0"/>
<rect x="1316" y="660" width="1" height="27" fill="#c0c0c0"/>
<rect x="1324" y="660" width="1" height="16" fill="#c0c0c0"/>
</g>
<path d="M2.8,633.2 L21.0,645.7 L38.7,655.9 L51.5,662.3 L63.5,670.0 L75.5,677.0 L87.4,684.4 L99.4,689.5 L108.6,692.7 L117.8,695.4 L128.8,696.4 L140.8,696.0 L152.8,692.7 L165.7,687.0 L176.7,679.8 L189.6,669.7 L202.5,658.6 L211.7,647.6 L220.9,635.6 L231.9,623.7 L243.0,616.3 L255.8,613.5 L268.7,618.5 L279.8,629.2 L290.8,643.9 L301.0,659.5 L310.0,671.5 L321.3,682.2 L332.3,688.4 L343.4,691.4 L352.6,692.3 L376.5,692.3 L387.6,694.5 L398.6,698.2 L409.6,703.7 L422.5,710.2 L433.6,714.8 L442.8,717.9 L452.0,720.3 L463.0,725.3 L474.0,729.0 L485.0,729.5 L501.7,729.0 L523.8,725.8 L534.8,721.2 L547.7,713.5 L556.9,708.3 L566.0,701.9 L577.0,693.6 L591.0,683.5 L604.0,674.8 L616.8,666.9 L633.4,659.5 L644.4,652.2 L657.3,644.3 L668.3,636.5 L681.2,628.8 L692.3,621.8 L701.5,617.8 L712.5,614.8 L725.4,614.4 L736.4,616.7 L747.5,621.3 L758.5,625.1 L771.4,630.0 L782.5,634.3 L795.3,638.7 L806.4,643.3 L817.4,646.3 L830.3,651.3 L843.2,658.6 L854.2,667.8 L865.3,677.0 L882.9,693.6 L893.9,702.8 L903.0,711.0 L912.3,715.7 L921.5,717.9 L932.6,716.6 L945.5,711.0 L956.5,703.7 L969.4,696.9 L980.4,690.3 L991.5,685.9 L1004.4,682.6 L1017.0,678.5 L1028.0,673.0 L1039.0,666.9 L1052.0,658.3 L1063.0,653.0 L1076.0,649.8 L1087.0,650.3 L1098.0,653.0 L1107.0,658.6 L1116.6,665.0 L1125.8,672.4 L1135.0,678.0 L1144.0,683.5 L1157.4,689.9 L1172.0,701.0 L1185.0,708.7 L1197.9,715.7 L1205.0,719.4 L1214.4,725.8 L1223.6,731.3 L1232.8,736.0 L1242.0,739.2 L1253.0,739.6 L1262.3,739.2 L1275.0,736.5 L1286.0,731.3 L1297.0,725.4 L1308.0,718.4 L1317.5,711.0 L1324.0,707.0" fill="none" stroke="#ff0000" stroke-width="1" stroke-dasharray="3,3" shape-rendering="crispEdges"/>
<text x="1" y="598" font-size="9.2" fill="#000" textLength="153" lengthAdjust="spacingAndGlyphs" stroke="#000" stroke-width="0.18">MACD(12,26,9) -0.000863 -0.002284</text>
<text x="1620" y="595.5" font-size="9.2" fill="#000" textLength="36.5" lengthAdjust="spacingAndGlyphs" stroke="#000" stroke-width="0.18">0.003691</text>
<text x="1620" y="664" font-size="9.2" fill="#000" textLength="17.5" lengthAdjust="spacingAndGlyphs" stroke="#000" stroke-width="0.18">0.00</text>
<text x="1619.5" y="752" font-size="9.2" fill="#000" textLength="40" lengthAdjust="spacingAndGlyphs" stroke="#000" stroke-width="0.18">-0.004721</text>
<g shape-rendering="crispEdges"><rect x="1616" y="587" width="3" height="1" fill="#000"/><rect x="1616" y="660" width="3" height="1" fill="#000"/></g>
<g shape-rendering="crispEdges">
<line x1="3" y1="793.5" x2="1615" y2="793.5" stroke="#c0c0c0" stroke-width="1" stroke-dasharray="3,3"/>
<line x1="3" y1="844.5" x2="1615" y2="844.5" stroke="#c0c0c0" stroke-width="1" stroke-dasharray="3,3"/>
<line x1="3" y1="905.5" x2="1615" y2="905.5" stroke="#c0c0c0" stroke-width="1" stroke-dasharray="3,3"/>
</g>
<path d="M0.0,844.4 L4.0,843.3 L12.0,856.2 L20.0,859.3 L28.0,853.2 L36.0,855.2 L44.0,867.0 L52.0,870.0 L60.0,879.0 L68.0,867.0 L76.0,858.3 L84.0,859.3 L92.0,863.4 L100.0,860.3 L108.0,865.0 L116.0,853.2 L124.0,854.6 L132.0,856.2 L140.0,863.0 L148.0,836.4 L156.0,823.5 L164.0,830.2 L172.0,830.2 L180.0,827.6 L188.0,818.4 L196.0,818.0 L204.0,806.7 L212.0,803.4 L220.0,812.2 L228.0,822.0 L236.0,827.6 L244.0,853.2 L252.0,864.0 L260.0,867.5 L268.0,867.5 L276.0,866.5 L284.0,877.0 L292.0,855.8 L300.0,852.5 L308.0,849.5 L316.0,851.0 L324.0,853.2 L332.0,849.0 L340.0,841.5 L348.0,860.3 L356.0,858.9 L364.0,857.2 L372.0,858.9 L380.0,860.3 L388.0,863.8 L396.0,872.2 L404.0,873.6 L412.0,870.0 L420.0,867.5 L428.0,868.0 L436.0,869.5 L444.0,865.0 L452.0,878.3 L460.0,877.3 L468.0,873.2 L476.0,878.3 L484.0,857.2 L492.0,857.2 L500.0,859.3 L508.0,859.3 L516.0,858.3 L524.0,862.4 L532.0,851.5 L540.0,844.6 L548.0,837.4 L556.0,840.5 L564.0,839.4 L572.0,836.4 L580.0,829.2 L588.0,834.0 L596.0,841.9 L604.0,843.5 L612.0,844.4 L620.0,833.7 L628.0,830.0 L636.0,808.0 L644.0,809.6 L652.0,813.9 L660.0,816.3 L668.0,811.8 L676.0,826.6 L684.0,834.3 L692.0,828.2 L700.0,822.5 L708.0,825.5 L716.0,830.0 L724.0,838.8 L732.0,843.9 L740.0,847.4 L748.0,844.6 L756.0,845.6 L764.0,848.4 L772.0,829.2 L780.0,831.0 L788.0,849.5 L796.0,849.5 L804.0,849.5 L812.0,845.4 L820.0,854.6 L828.0,867.0 L836.0,876.7 L844.0,873.2 L852.0,877.0 L860.0,880.4 L868.0,886.3 L876.0,881.4 L884.0,880.4 L892.0,880.4 L900.0,871.2 L908.0,873.6 L916.0,843.9 L924.0,838.2 L932.0,834.0 L940.0,843.5 L948.0,850.5 L956.0,847.4 L964.0,860.3 L972.0,852.0 L980.0,855.6 L988.0,851.0 L996.0,845.0 L1004.0,838.8 L1012.0,834.7 L1020.0,820.4 L1028.0,827.6 L1036.0,826.6 L1044.0,830.2 L1052.0,833.7 L1060.0,853.2 L1068.0,857.9 L1076.0,860.3 L1084.0,862.4 L1092.0,854.2 L1100.0,854.2 L1108.0,870.5 L1116.0,869.0 L1124.0,859.3 L1132.0,861.0 L1140.0,865.4 L1148.0,868.5 L1156.0,859.3 L1164.0,883.4 L1172.0,876.7 L1180.0,872.0 L1188.0,860.7 L1196.0,866.5 L1204.0,871.6 L1212.0,877.3 L1220.0,867.5 L1228.0,869.5 L1236.0,866.5 L1244.0,858.3 L1252.0,861.3 L1260.0,851.5 L1268.0,852.5 L1276.0,850.5 L1284.0,852.0 L1292.0,858.3 L1300.0,857.2 L1308.0,847.6 L1316.0,833.3 L1324.0,833.3" fill="none" stroke="#1e90ff" stroke-width="1" shape-rendering="crispEdges"/>
<text x="1" y="770" font-size="9.2" fill="#000" textLength="66.5" lengthAdjust="spacingAndGlyphs" stroke="#000" stroke-width="0.18">RSI(14) 56.4469</text>
<text x="1619.5" y="768" font-size="9.2" fill="#000" textLength="14.5" lengthAdjust="spacingAndGlyphs" stroke="#000" stroke-width="0.18">100</text>
<text x="1618.3" y="796.5" font-size="9.2" fill="#000" textLength="9.5" lengthAdjust="spacingAndGlyphs" stroke="#000" stroke-width="0.18">80</text>
<text x="1618.3" y="847.5" font-size="9.2" fill="#000" textLength="9.5" lengthAdjust="spacingAndGlyphs" stroke="#000" stroke-width="0.18">50</text>
<text x="1618.3" y="908.5" font-size="9.2" fill="#000" textLength="9.5" lengthAdjust="spacingAndGlyphs" stroke="#000" stroke-width="0.18">15</text>
<text x="1619.5" y="928" font-size="9.2" fill="#000" textLength="4.7" lengthAdjust="spacingAndGlyphs" stroke="#000" stroke-width="0.18">0</text>
<g shape-rendering="crispEdges">
<rect x="-4" y="932" width="1" height="3" fill="#000"/>
<rect x="60" y="932" width="1" height="3" fill="#000"/>
<rect x="124" y="932" width="1" height="3" fill="#000"/>
<rect x="188" y="932" width="1" height="3" fill="#000"/>
<rect x="252" y="932" width="1" height="3" fill="#000"/>
<rect x="316" y="932" width="1" height="3" fill="#000"/>
<rect x="380" y="932" width="1" height="3" fill="#000"/>
<rect x="444" y="932" width="1" height="3" fill="#000"/>
<rect x="508" y="932" width="1" height="3" fill="#000"/>
<rect x="572" y="932" width="1" height="3" fill="#000"/>
<rect x="636" y="932" width="1" height="3" fill="#000"/>
<rect x="700" y="932" width="1" height="3" fill="#000"/>
<rect x="764" y="932" width="1" height="3" fill="#000"/>
<rect x="828" y="932" width="1" height="3" fill="#000"/>
<rect x="892" y="932" width="1" height="3" fill="#000"/>
<rect x="956" y="932" width="1" height="3" fill="#000"/>
<rect x="1020" y="932" width="1" height="3" fill="#000"/>
<rect x="1084" y="932" width="1" height="3" fill="#000"/>
<rect x="1148" y="932" width="1" height="3" fill="#000"/>
<rect x="1212" y="932" width="1" height="3" fill="#000"/>
<rect x="1276" y="932" width="1" height="3" fill="#000"/>
</g>
<text x="-5" y="944" font-size="9.2" fill="#000" stroke="#000" stroke-width="0.18">27 Jan 2020</text>
<text x="59" y="944" font-size="9.2" fill="#000" stroke="#000" stroke-width="0.18">28 Jan 12:00</text>
<text x="123" y="944" font-size="9.2" fill="#000" stroke="#000" stroke-width="0.18">29 Jan 20:00</text>
<text x="187" y="944" font-size="9.2" fill="#000" stroke="#000" stroke-width="0.18">31 Jan 04:00</text>
<text x="251" y="944" font-size="9.2" fill="#000" stroke="#000" stroke-width="0.18">3 Feb 12:00</text>
<text x="315" y="944" font-size="9.2" fill="#000" stroke="#000" stroke-width="0.18">4 Feb 20:00</text>
<text x="379" y="944" font-size="9.2" fill="#000" stroke="#000" stroke-width="0.18">6 Feb 04:00</text>
<text x="443" y="944" font-size="9.2" fill="#000" stroke="#000" stroke-width="0.18">7 Feb 12:00</text>
<text x="507" y="944" font-size="9.2" fill="#000" stroke="#000" stroke-width="0.18">10 Feb 20:00</text>
<text x="571" y="944" font-size="9.2" fill="#000" stroke="#000" stroke-width="0.18">12 Feb 04:00</text>
<text x="635" y="944" font-size="9.2" fill="#000" stroke="#000" stroke-width="0.18">13 Feb 12:00</text>
<text x="699" y="944" font-size="9.2" fill="#000" stroke="#000" stroke-width="0.18">16 Feb 23:00</text>
<text x="763" y="944" font-size="9.2" fill="#000" stroke="#000" stroke-width="0.18">18 Feb 04:00</text>
<text x="827" y="944" font-size="9.2" fill="#000" stroke="#000" stroke-width="0.18">19 Feb 12:00</text>
<text x="891" y="944" font-size="9.2" fill="#000" stroke="#000" stroke-width="0.18">20 Feb 20:00</text>
<text x="955" y="944" font-size="9.2" fill="#000" stroke="#000" stroke-width="0.18">24 Feb 04:00</text>
<text x="1019" y="944" font-size="9.2" fill="#000" stroke="#000" stroke-width="0.18">25 Feb 12:00</text>
<text x="1083" y="944" font-size="9.2" fill="#000" stroke="#000" stroke-width="0.18">26 Feb 20:00</text>
<text x="1147" y="944" font-size="9.2" fill="#000" stroke="#000" stroke-width="0.18">28 Feb 04:00</text>
<text x="1211" y="944" font-size="9.2" fill="#000" stroke="#000" stroke-width="0.18">2 Mar 12:00</text>
<text x="1275" y="944" font-size="9.2" fill="#000" stroke="#000" stroke-width="0.18">3 Mar 20:00</text>
<g shape-rendering="crispEdges">
<rect x="0" y="49" width="220" height="67" fill="#fff"/>
<rect x="0" y="50" width="51" height="24" fill="url(#gs1)"/>
<rect x="166" y="50" width="52" height="24" fill="url(#gs1)"/>
<rect x="0" y="74" width="108" height="40" fill="url(#gs2)"/>
<rect x="110" y="74" width="108" height="40" fill="url(#gs2)"/>
<rect x="3" y="72" width="44" height="1" fill="#1c1cb0"/><rect x="3" y="73" width="44" height="1" fill="#8888f8"/>
<rect x="170" y="72" width="44" height="1" fill="#1c1cb0"/><rect x="170" y="73" width="44" height="1" fill="#8888f8"/>
<rect x="51" y="50" width="115" height="24" fill="#f2f2f2"/>
<rect x="53.5" y="50.5" width="110" height="21" fill="#fff" stroke="#a0a0a0" stroke-width="1"/>
<rect x="54" y="51" width="20" height="20" fill="url(#gb)"/><rect x="74" y="51" width="1" height="20" fill="#a0a0a0"/>
<rect x="143" y="51" width="20" height="20" fill="url(#gb)"/><rect x="142" y="51" width="1" height="20" fill="#a0a0a0"/>
</g>
<polygon points="61,59 66,59 63.5,62" fill="#4a5ab0"/>
<polygon points="150,62 155,62 152.5,59" fill="#4a5ab0"/>
<text x="11.5" y="66" font-size="12.3" fill="#fff" textLength="25.5" lengthAdjust="spacingAndGlyphs">SELL</text>
<text x="179.5" y="66" font-size="12.3" fill="#fff" textLength="23.5" lengthAdjust="spacingAndGlyphs">BUY</text>
<text x="138.5" y="64.7" font-size="12.3" fill="#000" text-anchor="end" textLength="23.2" lengthAdjust="spacingAndGlyphs">1.00</text>
<text x="19.5" y="105.2" font-size="12.3" fill="#fff" font-weight="bold" textLength="23.5" lengthAdjust="spacingAndGlyphs">1.28</text>
<text x="47" y="105.2" font-size="34.5" fill="#fff" textLength="35.5" lengthAdjust="spacingAndGlyphs">64</text>
<text x="87" y="88.8" font-size="12.2" fill="#fff" font-weight="bold">1</text>
<text x="129.5" y="105.2" font-size="12.3" fill="#fff" font-weight="bold" textLength="23.5" lengthAdjust="spacingAndGlyphs">1.28</text>
<text x="157.5" y="105.2" font-size="34.5" fill="#fff" textLength="35.5" lengthAdjust="spacingAndGlyphs">66</text>
<text x="197.6" y="88.8" font-size="12.2" fill="#fff" font-weight="bold">5</text>
</svg>
<svg width="1662" height="28" viewBox="0 0 1662 28" style="position:absolute;left:0;top:0;font-family:'Liberation Sans','Noto Sans CJK SC',sans-serif">
<defs>
<pattern id="chk" width="2" height="2" patternUnits="userSpaceOnUse"><rect width="2" height="2" fill="#f6f6f6"/><rect width="1" height="1" fill="#ececec"/><rect x="1" y="1" width="1" height="1" fill="#ececec"/></pattern>
<linearGradient id="gold" x1="0" y1="0" x2="1" y2="1"><stop offset="0" stop-color="#fbe27a"/><stop offset="0.5" stop-color="#e8b830"/><stop offset="1" stop-color="#b87a10"/></linearGradient>
<linearGradient id="blu" x1="0" y1="0" x2="0" y2="1"><stop offset="0" stop-color="#58b4ff"/><stop offset="1" stop-color="#0a6ad8"/></linearGradient>
<linearGradient id="cld" x1="0" y1="0" x2="0" y2="1"><stop offset="0" stop-color="#ffffff"/><stop offset="1" stop-color="#c8d4ea"/></linearGradient>
<linearGradient id="grn" x1="0" y1="0" x2="1" y2="0"><stop offset="0" stop-color="#18b018"/><stop offset="0.5" stop-color="#60f060"/><stop offset="1" stop-color="#10a010"/></linearGradient>
<radialGradient id="lens" cx="0.4" cy="0.35" r="0.7"><stop offset="0" stop-color="#ffffff"/><stop offset="1" stop-color="#b8e0f8"/></radialGradient>
<linearGradient id="clk" x1="0" y1="0" x2="0" y2="1"><stop offset="0" stop-color="#4aa0f0"/><stop offset="1" stop-color="#0848a8"/></linearGradient>
<linearGradient id="hat" x1="0" y1="0" x2="0" y2="1"><stop offset="0" stop-color="#8cc8f0"/><stop offset="1" stop-color="#3888c8"/></linearGradient>
<linearGradient id="yel" x1="0" y1="0" x2="1" y2="1"><stop offset="0" stop-color="#fff08a"/><stop offset="1" stop-color="#e8b020"/></linearGradient>
</defs>
<rect x="0" y="16" width="2" height="4" fill="#18a818"/>
<text x="5" y="18" font-size="12" fill="#000">新订单</text>
<polygon points="53,16.2 58.5,7.2 69,15.2 69,16.6 60.6,22.6 53,17.6" fill="#9a6408"/>
<polygon points="53.4,16.9 60.6,21.6 68.6,15.9 68.6,16.4 60.6,22.1 53.4,17.4" fill="#f4e8c8"/>
<polygon points="58.5,7.2 69,15.2 60.5,21 53,16.2" fill="url(#gold)" stroke="#a8720c" stroke-width="0.8" stroke-linejoin="round"/>
<path d="M58.8,8.6 L56,13.4 L61.5,17.2" fill="none" stroke="#fff4b0" stroke-width="1.1" opacity="0.75"/>
<polygon points="83.5,8 88,6.3 94.2,7.5 94.2,15 83.5,15" fill="url(#blu)"/><polygon points="83.5,8 86.5,9 86.5,15 83.5,15" fill="#0a78e8"/><rect x="88" y="10" width="4.5" height="1.2" fill="#d8ecff"/>
<path d="M84,21.7 h10.5 a2.6,2.6 0 0 0 0.3,-5.2 a2.6,2.6 0 0 0 -3.6,-1.3 a3.2,3.2 0 0 0 -5.6,1.2 a2.7,2.7 0 0 0 -1.6,5.3z" fill="url(#cld)" stroke="#5a78b8" stroke-width="0.9"/>
<circle cx="117" cy="14" r="7.3" fill="none" stroke="#9ab8e0" stroke-width="1.1"/><circle cx="117" cy="14" r="4.6" fill="none" stroke="#4a80d8" stroke-width="1.4"/><circle cx="117" cy="13.6" r="1.5" fill="#2a60c8"/>
<path d="M117.4,14.5 V21.6 A7.4,7.4 0 0 0 124.3,14.5 A5,5 0 0 1 117.4,14.5z" fill="#58b058" opacity="0.55"/><rect x="117" y="14.5" width="1.3" height="7.2" fill="#20a030"/>
<path d="M137.3,13 L151,12.6 L150.5,15 L145,21.7 L142,21.7z" fill="url(#yel)" stroke="#d8a018" stroke-width="0.6"/>
<path d="M136,11.2 C137,9.5 139.5,9.8 140.2,8.2 C141,6.2 146.8,6.2 147.6,8.2 C148.3,9.6 151,9.3 152,11 C151,13.4 147,14 144,14 C141,14 137,13.6 136,11.2z" fill="url(#hat)" stroke="#3a80b8" stroke-width="0.6"/>
<circle cx="148.3" cy="17.7" r="4" fill="#d82818"/><rect x="146.6" y="16" width="3.4" height="3.4" fill="#fff"/>
<text x="157" y="18" font-size="12" fill="#000">自动交易</text>
<g shape-rendering="crispEdges"><rect x="212" y="1" width="1" height="25" fill="#a0a0a0"/><rect x="213" y="1" width="1" height="25" fill="#fff"/>
<rect x="216" y="4" width="3" height="1" fill="#a0a0a0"/>
<rect x="216" y="6" width="3" height="1" fill="#a0a0a0"/>
<rect x="216" y="8" width="3" height="1" fill="#a0a0a0"/>
<rect x="216" y="10" width="3" height="1" fill="#a0a0a0"/>
<rect x="216" y="12" width="3" height="1" fill="#a0a0a0"/>
<rect x="216" y="14" width="3" height="1" fill="#a0a0a0"/>
<rect x="216" y="16" width="3" height="1" fill="#a0a0a0"/>
<rect x="216" y="18" width="3" height="1" fill="#a0a0a0"/>
<rect x="216" y="20" width="3" height="1" fill="#a0a0a0"/>
<rect x="216" y="22" width="3" height="1" fill="#a0a0a0"/>
</g>
<g shape-rendering="crispEdges" fill="#505050"><rect x="230" y="9" width="1" height="13"/><rect x="229" y="9" width="3" height="1"/><rect x="230" y="8" width="1" height="1"/><rect x="229" y="10" width="1" height="1" opacity="0"/>
<rect x="228" y="19" width="13" height="1"/><rect x="240" y="18" width="1" height="3"/><rect x="241" y="19" width="1" height="1"/></g>
<g shape-rendering="crispEdges" fill="#109010"><rect x="236" y="9" width="1.3" height="9"/><rect x="236" y="10" width="3" height="1.2"/><rect x="234" y="16" width="3" height="1.2"/></g>
<g shape-rendering="crispEdges"><rect x="250" y="2" width="25" height="22" fill="url(#chk)"/><rect x="250" y="2" width="25" height="1" fill="#a0a0a0"/><rect x="250" y="2" width="1" height="22" fill="#a0a0a0"/><rect x="274" y="3" width="1" height="21" fill="#fff"/><rect x="251" y="23" width="24" height="1" fill="#fff"/></g>
<g shape-rendering="crispEdges" fill="#505050"><rect x="258" y="9" width="1" height="13"/><rect x="257" y="9" width="3" height="1"/><rect x="258" y="8" width="1" height="1"/><rect x="257" y="10" width="1" height="1" opacity="0"/>
<rect x="256" y="19" width="13" height="1"/><rect x="268" y="18" width="1" height="3"/><rect x="269" y="19" width="1" height="1"/></g>
<g shape-rendering="crispEdges"><rect x="264" y="6" width="1" height="12" fill="#109010"/><rect x="262" y="8" width="5" height="8" fill="#109010"/><rect x="263" y="9" width="3" height="6" fill="#40e040"/></g>
<g shape-rendering="crispEdges" fill="#505050"><rect x="286" y="9" width="1" height="13"/><rect x="285" y="9" width="3" height="1"/><rect x="286" y="8" width="1" height="1"/><rect x="285" y="10" width="1" height="1" opacity="0"/>
<rect x="284" y="19" width="13" height="1"/><rect x="296" y="18" width="1" height="3"/><rect x="297" y="19" width="1" height="1"/></g>
<path d="M285.2,16.8 C288,15 289,11.2 291,11.2 C293,11.2 294.5,14.5 297,15.3" fill="none" stroke="#209020" stroke-width="1.2"/>
<rect x="307" y="3" width="1" height="21" fill="#a0a0a0" shape-rendering="crispEdges"/>
<line x1="325.8" y1="16.4" x2="331" y2="21" stroke="#a87808" stroke-width="3" stroke-linecap="round"/><line x1="326" y1="16.2" x2="330.7" y2="20.5" stroke="#f0d040" stroke-width="1.4" stroke-linecap="round"/>
<circle cx="322" cy="12.2" r="5.4" fill="url(#lens)" stroke="#3a88d8" stroke-width="1.3"/>
<rect x="319" y="11.4" width="6" height="1.7" fill="#3888c0"/>
<rect x="321.15" y="9.2" width="1.7" height="6" fill="#3888c0"/>
<line x1="353.8" y1="16.4" x2="359" y2="21" stroke="#a87808" stroke-width="3" stroke-linecap="round"/><line x1="354" y1="16.2" x2="358.7" y2="20.5" stroke="#f0d040" stroke-width="1.4" stroke-linecap="round"/>
<circle cx="350" cy="12.2" r="5.4" fill="url(#lens)" stroke="#3a88d8" stroke-width="1.3"/>
<rect x="347" y="11.4" width="6" height="1.7" fill="#3888c0"/>
<g shape-rendering="crispEdges"><rect x="372" y="6" width="8" height="8" fill="#38a018"/><rect x="380" y="6" width="8" height="8" fill="#1858d0"/><rect x="372" y="14" width="8" height="8" fill="#1858d0"/><rect x="380" y="14" width="8" height="8" fill="#38a018"/>
<rect x="373" y="9" width="6" height="4" fill="#fff"/><rect x="374" y="10" width="4" height="1" fill="#b8e8a0"/>
<rect x="381" y="9" width="6" height="4" fill="#fff"/><rect x="382" y="10" width="4" height="1" fill="#a8c8f8"/>
<rect x="373" y="17" width="6" height="4" fill="#fff"/><rect x="374" y="18" width="4" height="1" fill="#a8c8f8"/>
<rect x="381" y="17" width="6" height="4" fill="#fff"/><rect x="382" y="18" width="4" height="1" fill="#b8e8a0"/>
</g>
<rect x="397" y="3" width="1" height="21" fill="#a0a0a0" shape-rendering="crispEdges"/>
<g shape-rendering="crispEdges"><rect x="402" y="2" width="25" height="22" fill="url(#chk)"/><rect x="402" y="2" width="25" height="1" fill="#a0a0a0"/><rect x="402" y="2" width="1" height="22" fill="#a0a0a0"/><rect x="426" y="3" width="1" height="21" fill="#fff"/><rect x="403" y="23" width="24" height="1" fill="#fff"/></g>
<g shape-rendering="crispEdges" fill="#505050"><rect x="410" y="9" width="1" height="13"/><rect x="409" y="9" width="3" height="1"/><rect x="410" y="8" width="1" height="1"/><rect x="409" y="10" width="1" height="1" opacity="0"/>
<rect x="408" y="19" width="13" height="1"/><rect x="420" y="18" width="1" height="3"/><rect x="421" y="19" width="1" height="1"/></g>
<polygon points="415.5,10.8 419,13.6 415.5,16.4" fill="#80e080" stroke="#109010" stroke-width="1"/>
<g shape-rendering="crispEdges"><rect x="430" y="2" width="25" height="22" fill="url(#chk)"/><rect x="430" y="2" width="25" height="1" fill="#a0a0a0"/><rect x="430" y="2" width="1" height="22" fill="#a0a0a0"/><rect x="454" y="3" width="1" height="21" fill="#fff"/><rect x="431" y="23" width="24" height="1" fill="#fff"/></g>
<g shape-rendering="crispEdges" fill="#505050"><rect x="438" y="9" width="1" height="13"/><rect x="437" y="9" width="3" height="1"/><rect x="438" y="8" width="1" height="1"/><rect x="437" y="10" width="1" height="1" opacity="0"/>
<rect x="436" y="19" width="13" height="1"/><rect x="448" y="18" width="1" height="3"/><rect x="449" y="19" width="1" height="1"/></g>
<rect x="444" y="8" width="1.2" height="10" fill="#1868b0"/><path d="M450,13.5 H446 M448.3,11.5 L446,13.5 L448.3,15.5" stroke="#d84008" stroke-width="1.1" fill="none"/>
<rect x="459" y="3" width="1" height="21" fill="#a0a0a0" shape-rendering="crispEdges"/>
<path d="M470,7 h7 l3,3 v9.5 h-10z" fill="#fafafa" stroke="#787878" stroke-width="1"/><path d="M477,7 v3 h3" fill="none" stroke="#787878" stroke-width="0.9"/><path d="M474.5,10 c-1.6,0 -1.6,1 -1.6,2 v4" fill="none" stroke="#605040" stroke-width="0.9"/>
<path d="M477.6,12.2 h3.4 v3.6 h3.6 v3.4 h-3.6 v3.6 h-3.4 v-3.6 h-3.6 v-3.4 h3.6z" fill="#30d030" stroke="#109010" stroke-width="0.8"/>
<polygon points="491,13 496.5,13 493.75,16" fill="#000"/>
<circle cx="515" cy="13.8" r="8.1" fill="url(#clk)"/><circle cx="515" cy="13.8" r="5.4" fill="#f4f8ff"/><path d="M515,10 V14 H518" fill="none" stroke="#303030" stroke-width="1"/>
<polygon points="530,13 535.5,13 532.75,16" fill="#000"/>
<g shape-rendering="crispEdges"><rect x="546" y="7" width="16" height="14" fill="#fff" stroke="#3070c8" stroke-width="1"/><rect x="546" y="7" width="16" height="2.5" fill="#4a90e8"/><rect x="546" y="14.5" width="16" height="1" fill="#3070c8"/></g>
<path d="M548,13 L550,13 L552,11.5 L554,11.5 L556,12.5 L558,12.5 L560,11.3" fill="none" stroke="#a82808" stroke-width="1.1"/><path d="M548.5,18.8 L551,17.8 L553,18.8 L556.5,16.5 L559.5,18.8" fill="none" stroke="#109030" stroke-width="1.1"/>
<polygon points="569,13 574.5,13 571.75,16" fill="#000"/>
<g shape-rendering="crispEdges"><rect x="580" y="1" width="1" height="25" fill="#a0a0a0"/><rect x="581" y="1" width="1" height="25" fill="#fff"/>
<rect x="584" y="4" width="3" height="1" fill="#a0a0a0"/>
<rect x="584" y="6" width="3" height="1" fill="#a0a0a0"/>
<rect x="584" y="8" width="3" height="1" fill="#a0a0a0"/>
<rect x="584" y="10" width="3" height="1" fill="#a0a0a0"/>
<rect x="584" y="12" width="3" height="1" fill="#a0a0a0"/>
<rect x="584" y="14" width="3" height="1" fill="#a0a0a0"/>
<rect x="584" y="16" width="3" height="1" fill="#a0a0a0"/>
<rect x="584" y="18" width="3" height="1" fill="#a0a0a0"/>
<rect x="584" y="20" width="3" height="1" fill="#a0a0a0"/>
<rect x="584" y="22" width="3" height="1" fill="#a0a0a0"/>
</g>
<g shape-rendering="crispEdges"><rect x="590" y="2" width="25" height="22" fill="url(#chk)"/><rect x="590" y="2" width="25" height="1" fill="#a0a0a0"/><rect x="590" y="2" width="1" height="22" fill="#a0a0a0"/><rect x="614" y="3" width="1" height="21" fill="#fff"/><rect x="591" y="23" width="24" height="1" fill="#fff"/></g>
<polygon points="598,6.8 598,17.8 600.5,15.6 603,21.2 605.2,20.3 602.7,15 606.2,14.8" fill="#505050"/>
<g shape-rendering="crispEdges" fill="#505050"><rect x="623" y="14" width="6" height="1"/><rect x="632" y="14" width="6" height="1"/><rect x="630" y="7" width="1" height="6"/><rect x="630" y="16" width="1" height="6"/><rect x="630" y="14" width="1" height="1" fill="#909090"/></g>
<rect x="647" y="3" width="1" height="21" fill="#a0a0a0" shape-rendering="crispEdges"/>
<g shape-rendering="crispEdges" fill="#505050"><rect x="664" y="8" width="1" height="13"/><rect x="687" y="14" width="12" height="1"/></g>
<line x1="714.8" y1="21" x2="727.2" y2="8.6" stroke="#505050" stroke-width="1"/>
<g stroke="#505050" stroke-width="0.9" fill="none"><path d="M741,15.8 L752,7.8 M742,19.5 L755,10.5 M746,21.2 L755,14.8"/><path d="M744.5,13.5 L743.5,19.5 M748,11 L747,17.5 M751.5,8.8 L750.5,15 M753.5,7 L754,13"/></g>
<text x="752" y="22.7" font-size="6.8" font-weight="bold" fill="#404040">E</text>
<g stroke="#505050" stroke-width="1" stroke-dasharray="1,1" shape-rendering="crispEdges"><line x1="770" y1="7.5" x2="783" y2="7.5"/><line x1="770" y1="10.5" x2="783" y2="10.5"/><line x1="770" y1="14.5" x2="783" y2="14.5"/><line x1="770" y1="18.5" x2="779" y2="18.5"/></g>
<text x="779.8" y="22.7" font-size="6.8" font-weight="bold" fill="#404040">F</text>
<text x="800.5" y="19.1" font-size="12.6" fill="#505050" stroke="#505050" stroke-width="0.3">A</text>
<rect x="827.5" y="8.5" width="11" height="12" fill="none" stroke="#505050" stroke-width="1" stroke-dasharray="1,1" shape-rendering="crispEdges"/><rect x="826" y="7" width="2" height="1.5" fill="#505050"/>
<text x="829.2" y="18.4" font-size="10.6" font-weight="bold" fill="#505050">T</text>
<polygon points="857.3,7.8 860.8,11.9 853.8,11.9" fill="#505050"/><polygon points="864.5,21 868,17.2 861,17.2" fill="#505050"/><path d="M856,15.5 L858,17.3 L863,12.3" fill="none" stroke="#505050" stroke-width="1.3"/>
<polygon points="875,13 880.5,13 877.75,16" fill="#000"/>
<g shape-rendering="crispEdges"><rect x="886" y="1" width="1" height="25" fill="#a0a0a0"/><rect x="887" y="1" width="1" height="25" fill="#fff"/>
<rect x="890" y="4" width="3" height="1" fill="#a0a0a0"/>
<rect x="890" y="6" width="3" height="1" fill="#a0a0a0"/>
<rect x="890" y="8" width="3" height="1" fill="#a0a0a0"/>
<rect x="890" y="10" width="3" height="1" fill="#a0a0a0"/>
<rect x="890" y="12" width="3" height="1" fill="#a0a0a0"/>
<rect x="890" y="14" width="3" height="1" fill="#a0a0a0"/>
<rect x="890" y="16" width="3" height="1" fill="#a0a0a0"/>
<rect x="890" y="18" width="3" height="1" fill="#a0a0a0"/>
<rect x="890" y="20" width="3" height="1" fill="#a0a0a0"/>
<rect x="890" y="22" width="3" height="1" fill="#a0a0a0"/>
</g>
<g shape-rendering="crispEdges"><rect x="1036" y="2" width="26" height="22" fill="url(#chk)"/><rect x="1036" y="2" width="26" height="1" fill="#a0a0a0"/><rect x="1036" y="2" width="1" height="22" fill="#a0a0a0"/><rect x="1061" y="3" width="1" height="21" fill="#fff"/><rect x="1037" y="23" width="25" height="1" fill="#fff"/></g>
<text x="901.6" y="17.8" font-size="9.2" fill="#303030" textLength="12.6" lengthAdjust="spacingAndGlyphs">M1</text>
<text x="929.6" y="17.8" font-size="9.2" fill="#303030" textLength="13.0" lengthAdjust="spacingAndGlyphs">M5</text>
<text x="955.7" y="17.8" font-size="9.2" fill="#303030" textLength="17.5" lengthAdjust="spacingAndGlyphs">M15</text>
<text x="983.7" y="17.8" font-size="9.2" fill="#303030" textLength="17.5" lengthAdjust="spacingAndGlyphs">M30</text>
<text x="1014.4" y="17.8" font-size="9.2" fill="#303030" textLength="11.7" lengthAdjust="spacingAndGlyphs">H1</text>
<text x="1041.5" y="17.8" font-size="9.2" fill="#303030" textLength="12.6" lengthAdjust="spacingAndGlyphs">H4</text>
<text x="1070.4" y="17.8" font-size="9.2" fill="#303030" textLength="12.1" lengthAdjust="spacingAndGlyphs">D1</text>
<text x="1098.3" y="17.8" font-size="9.2" fill="#303030" textLength="13.6" lengthAdjust="spacingAndGlyphs">W1</text>
<text x="1124.5" y="17.8" font-size="9.2" fill="#303030" textLength="14.8" lengthAdjust="spacingAndGlyphs">MN</text>
<g shape-rendering="crispEdges"><rect x="1147" y="1" width="1" height="25" fill="#a0a0a0"/><rect x="1148" y="1" width="1" height="25" fill="#fff"/></g>
<circle cx="1617.5" cy="11" r="3.6" fill="#f0f4ff" stroke="#2858c8" stroke-width="1.5"/><line x1="1614.8" y1="13.8" x2="1610.2" y2="18.3" stroke="#2858c8" stroke-width="2" stroke-linecap="round"/>
<ellipse cx="1650.5" cy="11.5" rx="6" ry="4.6" fill="#f6f6fa" stroke="#909090" stroke-width="0.9"/><path d="M1652,15.5 L1654,18 L1654.5,15.3" fill="#f6f6fa" stroke="#909090" stroke-width="0.8"/>
<ellipse cx="1641.5" cy="15" rx="4.6" ry="3.6" fill="#f6f6fa" stroke="#909090" stroke-width="0.9"/><path d="M1639.5,18 L1639.5,20.5 L1642,18.4" fill="#f6f6fa" stroke="#909090" stroke-width="0.8"/>
</svg>
</body></html>
